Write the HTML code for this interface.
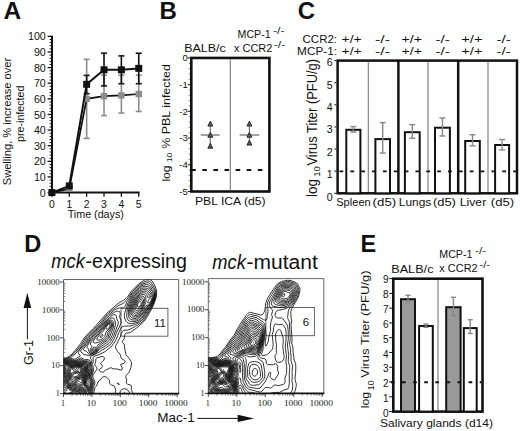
<!DOCTYPE html>
<html><head><meta charset="utf-8"><style>
html,body{margin:0;padding:0;background:#fff;}
body{width:520px;height:431px;overflow:hidden;}
svg{display:block}
</style></head><body>
<svg width="520" height="431" viewBox="0 0 520 431">
<rect width="520" height="431" fill="#fff"/>
<text x="3.4" y="18.8" text-anchor="start" style='font-family:"Liberation Sans", sans-serif;font-size:24.5px;font-weight:bold;font-style:normal' fill="#111">A</text>
<line x1="52.00" y1="35.85" x2="52.00" y2="193.60" stroke="#111" stroke-width="2" />
<line x1="47.60" y1="192.60" x2="52.00" y2="192.60" stroke="#111" stroke-width="1.3" />
<line x1="49.60" y1="189.47" x2="52.00" y2="189.47" stroke="#111" stroke-width="1" />
<line x1="49.60" y1="186.35" x2="52.00" y2="186.35" stroke="#111" stroke-width="1" />
<line x1="49.60" y1="183.22" x2="52.00" y2="183.22" stroke="#111" stroke-width="1" />
<line x1="49.60" y1="180.10" x2="52.00" y2="180.10" stroke="#111" stroke-width="1" />
<line x1="47.60" y1="176.97" x2="52.00" y2="176.97" stroke="#111" stroke-width="1.3" />
<line x1="49.60" y1="173.85" x2="52.00" y2="173.85" stroke="#111" stroke-width="1" />
<line x1="49.60" y1="170.72" x2="52.00" y2="170.72" stroke="#111" stroke-width="1" />
<line x1="49.60" y1="167.60" x2="52.00" y2="167.60" stroke="#111" stroke-width="1" />
<line x1="49.60" y1="164.47" x2="52.00" y2="164.47" stroke="#111" stroke-width="1" />
<line x1="47.60" y1="161.35" x2="52.00" y2="161.35" stroke="#111" stroke-width="1.3" />
<line x1="49.60" y1="158.22" x2="52.00" y2="158.22" stroke="#111" stroke-width="1" />
<line x1="49.60" y1="155.10" x2="52.00" y2="155.10" stroke="#111" stroke-width="1" />
<line x1="49.60" y1="151.97" x2="52.00" y2="151.97" stroke="#111" stroke-width="1" />
<line x1="49.60" y1="148.85" x2="52.00" y2="148.85" stroke="#111" stroke-width="1" />
<line x1="47.60" y1="145.72" x2="52.00" y2="145.72" stroke="#111" stroke-width="1.3" />
<line x1="49.60" y1="142.60" x2="52.00" y2="142.60" stroke="#111" stroke-width="1" />
<line x1="49.60" y1="139.47" x2="52.00" y2="139.47" stroke="#111" stroke-width="1" />
<line x1="49.60" y1="136.35" x2="52.00" y2="136.35" stroke="#111" stroke-width="1" />
<line x1="49.60" y1="133.22" x2="52.00" y2="133.22" stroke="#111" stroke-width="1" />
<line x1="47.60" y1="130.10" x2="52.00" y2="130.10" stroke="#111" stroke-width="1.3" />
<line x1="49.60" y1="126.97" x2="52.00" y2="126.97" stroke="#111" stroke-width="1" />
<line x1="49.60" y1="123.85" x2="52.00" y2="123.85" stroke="#111" stroke-width="1" />
<line x1="49.60" y1="120.72" x2="52.00" y2="120.72" stroke="#111" stroke-width="1" />
<line x1="49.60" y1="117.60" x2="52.00" y2="117.60" stroke="#111" stroke-width="1" />
<line x1="47.60" y1="114.47" x2="52.00" y2="114.47" stroke="#111" stroke-width="1.3" />
<line x1="49.60" y1="111.35" x2="52.00" y2="111.35" stroke="#111" stroke-width="1" />
<line x1="49.60" y1="108.22" x2="52.00" y2="108.22" stroke="#111" stroke-width="1" />
<line x1="49.60" y1="105.10" x2="52.00" y2="105.10" stroke="#111" stroke-width="1" />
<line x1="49.60" y1="101.97" x2="52.00" y2="101.97" stroke="#111" stroke-width="1" />
<line x1="47.60" y1="98.85" x2="52.00" y2="98.85" stroke="#111" stroke-width="1.3" />
<line x1="49.60" y1="95.72" x2="52.00" y2="95.72" stroke="#111" stroke-width="1" />
<line x1="49.60" y1="92.60" x2="52.00" y2="92.60" stroke="#111" stroke-width="1" />
<line x1="49.60" y1="89.47" x2="52.00" y2="89.47" stroke="#111" stroke-width="1" />
<line x1="49.60" y1="86.35" x2="52.00" y2="86.35" stroke="#111" stroke-width="1" />
<line x1="47.60" y1="83.22" x2="52.00" y2="83.22" stroke="#111" stroke-width="1.3" />
<line x1="49.60" y1="80.10" x2="52.00" y2="80.10" stroke="#111" stroke-width="1" />
<line x1="49.60" y1="76.97" x2="52.00" y2="76.97" stroke="#111" stroke-width="1" />
<line x1="49.60" y1="73.85" x2="52.00" y2="73.85" stroke="#111" stroke-width="1" />
<line x1="49.60" y1="70.72" x2="52.00" y2="70.72" stroke="#111" stroke-width="1" />
<line x1="47.60" y1="67.60" x2="52.00" y2="67.60" stroke="#111" stroke-width="1.3" />
<line x1="49.60" y1="64.47" x2="52.00" y2="64.47" stroke="#111" stroke-width="1" />
<line x1="49.60" y1="61.35" x2="52.00" y2="61.35" stroke="#111" stroke-width="1" />
<line x1="49.60" y1="58.22" x2="52.00" y2="58.22" stroke="#111" stroke-width="1" />
<line x1="49.60" y1="55.10" x2="52.00" y2="55.10" stroke="#111" stroke-width="1" />
<line x1="47.60" y1="51.97" x2="52.00" y2="51.97" stroke="#111" stroke-width="1.3" />
<line x1="49.60" y1="48.85" x2="52.00" y2="48.85" stroke="#111" stroke-width="1" />
<line x1="49.60" y1="45.72" x2="52.00" y2="45.72" stroke="#111" stroke-width="1" />
<line x1="49.60" y1="42.60" x2="52.00" y2="42.60" stroke="#111" stroke-width="1" />
<line x1="49.60" y1="39.47" x2="52.00" y2="39.47" stroke="#111" stroke-width="1" />
<line x1="47.60" y1="36.35" x2="52.00" y2="36.35" stroke="#111" stroke-width="1.3" />
<text x="45.8" y="196.7" text-anchor="end" style='font-family:"Liberation Sans", sans-serif;font-size:10.7px;font-weight:normal;font-style:normal' fill="#111">0</text>
<text x="45.8" y="181.075" text-anchor="end" style='font-family:"Liberation Sans", sans-serif;font-size:10.7px;font-weight:normal;font-style:normal' fill="#111">10</text>
<text x="45.8" y="165.45" text-anchor="end" style='font-family:"Liberation Sans", sans-serif;font-size:10.7px;font-weight:normal;font-style:normal' fill="#111">20</text>
<text x="45.8" y="149.825" text-anchor="end" style='font-family:"Liberation Sans", sans-serif;font-size:10.7px;font-weight:normal;font-style:normal' fill="#111">30</text>
<text x="45.8" y="134.2" text-anchor="end" style='font-family:"Liberation Sans", sans-serif;font-size:10.7px;font-weight:normal;font-style:normal' fill="#111">40</text>
<text x="45.8" y="118.57499999999999" text-anchor="end" style='font-family:"Liberation Sans", sans-serif;font-size:10.7px;font-weight:normal;font-style:normal' fill="#111">50</text>
<text x="45.8" y="102.94999999999999" text-anchor="end" style='font-family:"Liberation Sans", sans-serif;font-size:10.7px;font-weight:normal;font-style:normal' fill="#111">60</text>
<text x="45.8" y="87.32499999999999" text-anchor="end" style='font-family:"Liberation Sans", sans-serif;font-size:10.7px;font-weight:normal;font-style:normal' fill="#111">70</text>
<text x="45.8" y="71.69999999999999" text-anchor="end" style='font-family:"Liberation Sans", sans-serif;font-size:10.7px;font-weight:normal;font-style:normal' fill="#111">80</text>
<text x="45.8" y="56.074999999999996" text-anchor="end" style='font-family:"Liberation Sans", sans-serif;font-size:10.7px;font-weight:normal;font-style:normal' fill="#111">90</text>
<text x="45.8" y="40.449999999999996" text-anchor="end" style='font-family:"Liberation Sans", sans-serif;font-size:10.7px;font-weight:normal;font-style:normal' fill="#111">100</text>
<line x1="51.00" y1="192.60" x2="139.60" y2="192.60" stroke="#111" stroke-width="2" />
<line x1="51.90" y1="192.60" x2="51.90" y2="196.80" stroke="#111" stroke-width="1.3" />
<text x="51.9" y="207.6" text-anchor="middle" style='font-family:"Liberation Sans", sans-serif;font-size:10.4px;font-weight:normal;font-style:normal' fill="#111">0</text>
<line x1="69.27" y1="192.60" x2="69.27" y2="196.80" stroke="#111" stroke-width="1.3" />
<text x="69.27" y="207.6" text-anchor="middle" style='font-family:"Liberation Sans", sans-serif;font-size:10.4px;font-weight:normal;font-style:normal' fill="#111">1</text>
<line x1="86.64" y1="192.60" x2="86.64" y2="196.80" stroke="#111" stroke-width="1.3" />
<text x="86.64" y="207.6" text-anchor="middle" style='font-family:"Liberation Sans", sans-serif;font-size:10.4px;font-weight:normal;font-style:normal' fill="#111">2</text>
<line x1="104.01" y1="192.60" x2="104.01" y2="196.80" stroke="#111" stroke-width="1.3" />
<text x="104.00999999999999" y="207.6" text-anchor="middle" style='font-family:"Liberation Sans", sans-serif;font-size:10.4px;font-weight:normal;font-style:normal' fill="#111">3</text>
<line x1="121.38" y1="192.60" x2="121.38" y2="196.80" stroke="#111" stroke-width="1.3" />
<text x="121.38" y="207.6" text-anchor="middle" style='font-family:"Liberation Sans", sans-serif;font-size:10.4px;font-weight:normal;font-style:normal' fill="#111">4</text>
<line x1="138.75" y1="192.60" x2="138.75" y2="196.80" stroke="#111" stroke-width="1.3" />
<text x="138.75" y="207.6" text-anchor="middle" style='font-family:"Liberation Sans", sans-serif;font-size:10.4px;font-weight:normal;font-style:normal' fill="#111">5</text>
<text x="67.7" y="217.8" text-anchor="start" style='font-family:"Liberation Sans", sans-serif;font-size:10.0px;font-weight:normal;font-style:normal' fill="#111" textLength="56.2" lengthAdjust="spacingAndGlyphs">Time (days)</text>
<text transform="translate(10.5,185.3) rotate(-90)" x="0" y="0" text-anchor="start" style='font-family:"Liberation Sans", sans-serif;font-size:11.0px;font-weight:normal;font-style:normal' fill="#111" textLength="127.5" lengthAdjust="spacingAndGlyphs">Swelling, % increase over</text>
<text transform="translate(23.8,142.0) rotate(-90)" x="0" y="0" text-anchor="start" style='font-family:"Liberation Sans", sans-serif;font-size:11.0px;font-weight:normal;font-style:normal' fill="#111" textLength="56.5" lengthAdjust="spacingAndGlyphs">pre-infected</text>
<line x1="86.64" y1="138.38" x2="86.64" y2="59.32" stroke="#8c8c8c" stroke-width="1.6" />
<line x1="83.64" y1="138.38" x2="89.64" y2="138.38" stroke="#8c8c8c" stroke-width="1.6" />
<line x1="83.64" y1="59.32" x2="89.64" y2="59.32" stroke="#8c8c8c" stroke-width="1.6" />
<line x1="104.01" y1="115.57" x2="104.01" y2="75.10" stroke="#8c8c8c" stroke-width="1.6" />
<line x1="101.01" y1="115.57" x2="107.01" y2="115.57" stroke="#8c8c8c" stroke-width="1.6" />
<line x1="101.01" y1="75.10" x2="107.01" y2="75.10" stroke="#8c8c8c" stroke-width="1.6" />
<line x1="121.38" y1="113.07" x2="121.38" y2="75.10" stroke="#8c8c8c" stroke-width="1.6" />
<line x1="118.38" y1="113.07" x2="124.38" y2="113.07" stroke="#8c8c8c" stroke-width="1.6" />
<line x1="118.38" y1="75.10" x2="124.38" y2="75.10" stroke="#8c8c8c" stroke-width="1.6" />
<line x1="138.75" y1="111.51" x2="138.75" y2="75.10" stroke="#8c8c8c" stroke-width="1.6" />
<line x1="135.75" y1="111.51" x2="141.75" y2="111.51" stroke="#8c8c8c" stroke-width="1.6" />
<line x1="135.75" y1="75.10" x2="141.75" y2="75.10" stroke="#8c8c8c" stroke-width="1.6" />
<polyline points="51.90,192.60 69.27,188.69 86.64,98.85 104.01,96.19 121.38,95.41 138.75,94.01" fill="none" stroke="#111" stroke-width="1.7"/>
<rect x="48.70" y="189.40" width="6.40" height="6.40" fill="#8c8c8c" stroke="none" stroke-width="1"/>
<rect x="66.07" y="185.49" width="6.40" height="6.40" fill="#8c8c8c" stroke="none" stroke-width="1"/>
<rect x="83.44" y="95.65" width="6.40" height="6.40" fill="#8c8c8c" stroke="none" stroke-width="1"/>
<rect x="100.81" y="92.99" width="6.40" height="6.40" fill="#8c8c8c" stroke="none" stroke-width="1"/>
<rect x="118.18" y="92.21" width="6.40" height="6.40" fill="#8c8c8c" stroke="none" stroke-width="1"/>
<rect x="135.55" y="90.81" width="6.40" height="6.40" fill="#8c8c8c" stroke="none" stroke-width="1"/>
<line x1="86.64" y1="93.69" x2="86.64" y2="75.41" stroke="#111" stroke-width="1.6" />
<line x1="83.64" y1="93.69" x2="89.64" y2="93.69" stroke="#111" stroke-width="1.6" />
<line x1="83.64" y1="75.41" x2="89.64" y2="75.41" stroke="#111" stroke-width="1.6" />
<line x1="104.01" y1="85.88" x2="104.01" y2="53.22" stroke="#111" stroke-width="1.6" />
<line x1="101.01" y1="85.88" x2="107.01" y2="85.88" stroke="#111" stroke-width="1.6" />
<line x1="101.01" y1="53.22" x2="107.01" y2="53.22" stroke="#111" stroke-width="1.6" />
<line x1="121.38" y1="83.69" x2="121.38" y2="55.88" stroke="#111" stroke-width="1.6" />
<line x1="118.38" y1="83.69" x2="124.38" y2="83.69" stroke="#111" stroke-width="1.6" />
<line x1="118.38" y1="55.88" x2="124.38" y2="55.88" stroke="#111" stroke-width="1.6" />
<line x1="138.75" y1="83.69" x2="138.75" y2="53.22" stroke="#111" stroke-width="1.6" />
<line x1="135.75" y1="83.69" x2="141.75" y2="83.69" stroke="#111" stroke-width="1.6" />
<line x1="135.75" y1="53.22" x2="141.75" y2="53.22" stroke="#111" stroke-width="1.6" />
<polyline points="51.90,192.60 69.27,185.88 86.64,84.32 104.01,69.79 121.38,69.79 138.75,68.38" fill="none" stroke="#111" stroke-width="2"/>
<rect x="48.40" y="189.10" width="7.00" height="7.00" fill="#111" stroke="none" stroke-width="1"/>
<rect x="65.77" y="182.38" width="7.00" height="7.00" fill="#111" stroke="none" stroke-width="1"/>
<rect x="83.14" y="80.82" width="7.00" height="7.00" fill="#111" stroke="none" stroke-width="1"/>
<rect x="100.51" y="66.29" width="7.00" height="7.00" fill="#111" stroke="none" stroke-width="1"/>
<rect x="117.88" y="66.29" width="7.00" height="7.00" fill="#111" stroke="none" stroke-width="1"/>
<rect x="135.25" y="64.88" width="7.00" height="7.00" fill="#111" stroke="none" stroke-width="1"/>
<text x="159.6" y="18.9" text-anchor="start" style='font-family:"Liberation Sans", sans-serif;font-size:24px;font-weight:bold;font-style:normal' fill="#111">B</text>
<rect x="191.30" y="57.95" width="78.10" height="133.55" fill="none" stroke="#111" stroke-width="2.6"/>
<line x1="230.30" y1="59.20" x2="230.30" y2="190.20" stroke="#777" stroke-width="1.1" />
<line x1="187.80" y1="57.95" x2="190.00" y2="57.95" stroke="#111" stroke-width="1" />
<line x1="188.80" y1="63.29" x2="190.00" y2="63.29" stroke="#555" stroke-width="0.8" />
<line x1="188.80" y1="68.63" x2="190.00" y2="68.63" stroke="#555" stroke-width="0.8" />
<line x1="188.80" y1="73.97" x2="190.00" y2="73.97" stroke="#555" stroke-width="0.8" />
<line x1="188.80" y1="79.31" x2="190.00" y2="79.31" stroke="#555" stroke-width="0.8" />
<line x1="187.80" y1="84.65" x2="190.00" y2="84.65" stroke="#111" stroke-width="1" />
<line x1="188.80" y1="89.99" x2="190.00" y2="89.99" stroke="#555" stroke-width="0.8" />
<line x1="188.80" y1="95.33" x2="190.00" y2="95.33" stroke="#555" stroke-width="0.8" />
<line x1="188.80" y1="100.67" x2="190.00" y2="100.67" stroke="#555" stroke-width="0.8" />
<line x1="188.80" y1="106.01" x2="190.00" y2="106.01" stroke="#555" stroke-width="0.8" />
<line x1="187.80" y1="111.35" x2="190.00" y2="111.35" stroke="#111" stroke-width="1" />
<line x1="188.80" y1="116.69" x2="190.00" y2="116.69" stroke="#555" stroke-width="0.8" />
<line x1="188.80" y1="122.03" x2="190.00" y2="122.03" stroke="#555" stroke-width="0.8" />
<line x1="188.80" y1="127.37" x2="190.00" y2="127.37" stroke="#555" stroke-width="0.8" />
<line x1="188.80" y1="132.71" x2="190.00" y2="132.71" stroke="#555" stroke-width="0.8" />
<line x1="187.80" y1="138.05" x2="190.00" y2="138.05" stroke="#111" stroke-width="1" />
<line x1="188.80" y1="143.39" x2="190.00" y2="143.39" stroke="#555" stroke-width="0.8" />
<line x1="188.80" y1="148.73" x2="190.00" y2="148.73" stroke="#555" stroke-width="0.8" />
<line x1="188.80" y1="154.07" x2="190.00" y2="154.07" stroke="#555" stroke-width="0.8" />
<line x1="188.80" y1="159.41" x2="190.00" y2="159.41" stroke="#555" stroke-width="0.8" />
<line x1="187.80" y1="164.75" x2="190.00" y2="164.75" stroke="#111" stroke-width="1" />
<line x1="188.80" y1="170.09" x2="190.00" y2="170.09" stroke="#555" stroke-width="0.8" />
<line x1="188.80" y1="175.43" x2="190.00" y2="175.43" stroke="#555" stroke-width="0.8" />
<line x1="188.80" y1="180.77" x2="190.00" y2="180.77" stroke="#555" stroke-width="0.8" />
<line x1="188.80" y1="186.11" x2="190.00" y2="186.11" stroke="#555" stroke-width="0.8" />
<line x1="187.80" y1="191.45" x2="190.00" y2="191.45" stroke="#111" stroke-width="1" />
<text x="187.8" y="61.25" text-anchor="end" style='font-family:"Liberation Sans", sans-serif;font-size:9.5px;font-weight:normal;font-style:normal' fill="#111">0</text>
<text x="187.8" y="87.95" text-anchor="end" style='font-family:"Liberation Sans", sans-serif;font-size:9.5px;font-weight:normal;font-style:normal' fill="#111">-1</text>
<text x="187.8" y="114.64999999999999" text-anchor="end" style='font-family:"Liberation Sans", sans-serif;font-size:9.5px;font-weight:normal;font-style:normal' fill="#111">-2</text>
<text x="187.8" y="141.35000000000002" text-anchor="end" style='font-family:"Liberation Sans", sans-serif;font-size:9.5px;font-weight:normal;font-style:normal' fill="#111">-3</text>
<text x="187.8" y="168.05" text-anchor="end" style='font-family:"Liberation Sans", sans-serif;font-size:9.5px;font-weight:normal;font-style:normal' fill="#111">-4</text>
<text x="187.8" y="194.75" text-anchor="end" style='font-family:"Liberation Sans", sans-serif;font-size:9.5px;font-weight:normal;font-style:normal' fill="#111">-5</text>
<line x1="191.20" y1="170.00" x2="268.00" y2="170.00" stroke="#111" stroke-width="1.9" stroke-dasharray="4.6 6.5"/>
<line x1="210.30" y1="123.80" x2="210.30" y2="146.00" stroke="#777" stroke-width="1.2" />
<line x1="200.80" y1="135.00" x2="219.70" y2="135.00" stroke="#8a8a8a" stroke-width="1.6" />
<path d="M207.9,126.0 L210.3,121.2 L212.7,126.0 Z" fill="#666" stroke="#111" stroke-width="0.9"/>
<path d="M207.9,137.2 L210.3,132.4 L212.7,137.2 Z" fill="#666" stroke="#111" stroke-width="0.9"/>
<path d="M207.9,148.2 L210.3,143.4 L212.7,148.2 Z" fill="#666" stroke="#111" stroke-width="0.9"/>
<line x1="249.40" y1="123.80" x2="249.40" y2="142.90" stroke="#777" stroke-width="1.2" />
<line x1="239.60" y1="135.00" x2="259.30" y2="135.00" stroke="#8a8a8a" stroke-width="1.6" />
<path d="M247.0,126.0 L249.4,121.2 L251.8,126.0 Z" fill="#666" stroke="#111" stroke-width="0.9"/>
<path d="M247.0,137.2 L249.4,132.4 L251.8,137.2 Z" fill="#666" stroke="#111" stroke-width="0.9"/>
<path d="M247.0,145.1 L249.4,140.3 L251.8,145.1 Z" fill="#666" stroke="#111" stroke-width="0.9"/>
<text x="184.2" y="51.5" text-anchor="start" style='font-family:"Liberation Sans", sans-serif;font-size:10.5px;font-weight:normal;font-style:normal' fill="#111" textLength="41.6" lengthAdjust="spacingAndGlyphs">BALB/c</text>
<text x="237.6" y="38.4" text-anchor="start" style='font-family:"Liberation Sans", sans-serif;font-size:11.2px;font-weight:normal;font-style:normal' fill="#111" textLength="33.0" lengthAdjust="spacingAndGlyphs">MCP-1</text>
<text x="234.0" y="51.6" text-anchor="start" style='font-family:"Liberation Sans", sans-serif;font-size:11.2px;font-weight:normal;font-style:normal' fill="#111" textLength="38.3" lengthAdjust="spacingAndGlyphs">x CCR2</text>
<text x="273.1" y="33.9" text-anchor="start" style='font-family:"Liberation Sans", sans-serif;font-size:9px;font-weight:normal;font-style:normal' fill="#111" textLength="11.4" lengthAdjust="spacingAndGlyphs">-/-</text>
<text x="273.8" y="47.6" text-anchor="start" style='font-family:"Liberation Sans", sans-serif;font-size:9px;font-weight:normal;font-style:normal' fill="#111" textLength="11.4" lengthAdjust="spacingAndGlyphs">-/-</text>
<text x="195.0" y="205.3" text-anchor="start" style='font-family:"Liberation Sans", sans-serif;font-size:11.2px;font-weight:normal;font-style:normal' fill="#111" textLength="70.6" lengthAdjust="spacingAndGlyphs">PBL ICA (d5)</text>
<text transform="translate(170.4,181.6) rotate(-90)" x="0" y="0" text-anchor="start" style='font-family:"Liberation Sans", sans-serif;font-size:10.8px;font-weight:normal;font-style:normal' fill="#111" textLength="16.2" lengthAdjust="spacingAndGlyphs">log</text>
<text transform="translate(172.4,162.2) rotate(-90)" x="0" y="0" text-anchor="start" style='font-family:"Liberation Sans", sans-serif;font-size:7.5px;font-weight:normal;font-style:normal' fill="#111" textLength="9.6" lengthAdjust="spacingAndGlyphs">10</text>
<text transform="translate(170.4,148.8) rotate(-90)" x="0" y="0" text-anchor="start" style='font-family:"Liberation Sans", sans-serif;font-size:10.8px;font-weight:normal;font-style:normal' fill="#111" textLength="84.6" lengthAdjust="spacingAndGlyphs">% PBL infected</text>
<text x="297.7" y="19.2" text-anchor="start" style='font-family:"Liberation Sans", sans-serif;font-size:24px;font-weight:bold;font-style:normal' fill="#111">C</text>
<rect x="337.60" y="60.60" width="179.40" height="132.70" fill="none" stroke="#111" stroke-width="2.5"/>
<line x1="398.40" y1="60.60" x2="398.40" y2="193.30" stroke="#111" stroke-width="2.5" />
<line x1="458.20" y1="60.60" x2="458.20" y2="193.30" stroke="#111" stroke-width="2.5" />
<line x1="368.30" y1="61.80" x2="368.30" y2="192.10" stroke="#777" stroke-width="1.1" />
<line x1="428.00" y1="61.80" x2="428.00" y2="192.10" stroke="#777" stroke-width="1.1" />
<line x1="488.00" y1="61.80" x2="488.00" y2="192.10" stroke="#777" stroke-width="1.1" />
<line x1="334.40" y1="193.30" x2="336.40" y2="193.30" stroke="#111" stroke-width="1" />
<text x="332.7" y="200.59999999999997" text-anchor="end" style='font-family:"Liberation Sans", sans-serif;font-size:10.6px;font-weight:normal;font-style:normal' fill="#111">0</text>
<line x1="334.40" y1="171.18" x2="336.40" y2="171.18" stroke="#111" stroke-width="1" />
<text x="332.7" y="178.2" text-anchor="end" style='font-family:"Liberation Sans", sans-serif;font-size:10.6px;font-weight:normal;font-style:normal' fill="#111">1</text>
<line x1="334.40" y1="149.06" x2="336.40" y2="149.06" stroke="#111" stroke-width="1" />
<text x="332.7" y="155.8" text-anchor="end" style='font-family:"Liberation Sans", sans-serif;font-size:10.6px;font-weight:normal;font-style:normal' fill="#111">2</text>
<line x1="334.40" y1="126.94" x2="336.40" y2="126.94" stroke="#111" stroke-width="1" />
<text x="332.7" y="133.39999999999998" text-anchor="end" style='font-family:"Liberation Sans", sans-serif;font-size:10.6px;font-weight:normal;font-style:normal' fill="#111">3</text>
<line x1="334.40" y1="104.82" x2="336.40" y2="104.82" stroke="#111" stroke-width="1" />
<text x="332.7" y="111.0" text-anchor="end" style='font-family:"Liberation Sans", sans-serif;font-size:10.6px;font-weight:normal;font-style:normal' fill="#111">4</text>
<line x1="334.40" y1="82.70" x2="336.40" y2="82.70" stroke="#111" stroke-width="1" />
<text x="332.7" y="88.6" text-anchor="end" style='font-family:"Liberation Sans", sans-serif;font-size:10.6px;font-weight:normal;font-style:normal' fill="#111">5</text>
<line x1="334.40" y1="60.58" x2="336.40" y2="60.58" stroke="#111" stroke-width="1" />
<text x="332.7" y="66.2" text-anchor="end" style='font-family:"Liberation Sans", sans-serif;font-size:10.6px;font-weight:normal;font-style:normal' fill="#111">6</text>
<rect x="346.30" y="129.80" width="14.10" height="63.50" fill="#fff" stroke="#111" stroke-width="2"/>
<line x1="353.35" y1="126.60" x2="353.35" y2="132.10" stroke="#888" stroke-width="1.4" />
<line x1="350.35" y1="126.60" x2="356.35" y2="126.60" stroke="#888" stroke-width="1.4" />
<line x1="350.35" y1="132.10" x2="356.35" y2="132.10" stroke="#888" stroke-width="1.4" />
<rect x="375.40" y="139.10" width="14.60" height="54.20" fill="#fff" stroke="#111" stroke-width="2"/>
<line x1="382.70" y1="122.60" x2="382.70" y2="153.10" stroke="#888" stroke-width="1.4" />
<line x1="379.70" y1="122.60" x2="385.70" y2="122.60" stroke="#888" stroke-width="1.4" />
<line x1="379.70" y1="153.10" x2="385.70" y2="153.10" stroke="#888" stroke-width="1.4" />
<rect x="404.90" y="132.20" width="14.80" height="61.10" fill="#fff" stroke="#111" stroke-width="2"/>
<line x1="412.30" y1="124.60" x2="412.30" y2="138.20" stroke="#888" stroke-width="1.4" />
<line x1="409.30" y1="124.60" x2="415.30" y2="124.60" stroke="#888" stroke-width="1.4" />
<line x1="409.30" y1="138.20" x2="415.30" y2="138.20" stroke="#888" stroke-width="1.4" />
<rect x="435.00" y="127.70" width="14.90" height="65.60" fill="#fff" stroke="#111" stroke-width="2"/>
<line x1="442.45" y1="117.90" x2="442.45" y2="136.00" stroke="#888" stroke-width="1.4" />
<line x1="439.45" y1="117.90" x2="445.45" y2="117.90" stroke="#888" stroke-width="1.4" />
<line x1="439.45" y1="136.00" x2="445.45" y2="136.00" stroke="#888" stroke-width="1.4" />
<rect x="465.20" y="141.00" width="14.60" height="52.30" fill="#fff" stroke="#111" stroke-width="2"/>
<line x1="472.50" y1="134.70" x2="472.50" y2="145.90" stroke="#888" stroke-width="1.4" />
<line x1="469.50" y1="134.70" x2="475.50" y2="134.70" stroke="#888" stroke-width="1.4" />
<line x1="469.50" y1="145.90" x2="475.50" y2="145.90" stroke="#888" stroke-width="1.4" />
<rect x="495.10" y="145.00" width="14.00" height="48.30" fill="#fff" stroke="#111" stroke-width="2"/>
<line x1="502.10" y1="139.50" x2="502.10" y2="149.90" stroke="#888" stroke-width="1.4" />
<line x1="499.10" y1="139.50" x2="505.10" y2="139.50" stroke="#888" stroke-width="1.4" />
<line x1="499.10" y1="149.90" x2="505.10" y2="149.90" stroke="#888" stroke-width="1.4" />
<line x1="339.50" y1="171.40" x2="516.00" y2="171.40" stroke="#111" stroke-width="1.9" stroke-dasharray="3.8 7.05"/>
<text x="302.6" y="42.8" text-anchor="start" style='font-family:"Liberation Sans", sans-serif;font-size:10.5px;font-weight:normal;font-style:normal' fill="#111" textLength="34.4" lengthAdjust="spacingAndGlyphs">CCR2:</text>
<text x="297.1" y="54.8" text-anchor="start" style='font-family:"Liberation Sans", sans-serif;font-size:10.5px;font-weight:normal;font-style:normal' fill="#111" textLength="39.9" lengthAdjust="spacingAndGlyphs">MCP-1:</text>
<text x="341.6" y="42.8" text-anchor="start" style='font-family:"Liberation Sans", sans-serif;font-size:10.5px;font-weight:normal;font-style:normal' fill="#111" textLength="20.099999999999966" lengthAdjust="spacingAndGlyphs">+/+</text>
<text x="341.6" y="54.8" text-anchor="start" style='font-family:"Liberation Sans", sans-serif;font-size:10.5px;font-weight:normal;font-style:normal' fill="#111" textLength="20.099999999999966" lengthAdjust="spacingAndGlyphs">+/+</text>
<text x="401.5" y="42.8" text-anchor="start" style='font-family:"Liberation Sans", sans-serif;font-size:10.5px;font-weight:normal;font-style:normal' fill="#111" textLength="20.399999999999977" lengthAdjust="spacingAndGlyphs">+/+</text>
<text x="401.5" y="54.8" text-anchor="start" style='font-family:"Liberation Sans", sans-serif;font-size:10.5px;font-weight:normal;font-style:normal' fill="#111" textLength="20.399999999999977" lengthAdjust="spacingAndGlyphs">+/+</text>
<text x="461.3" y="42.8" text-anchor="start" style='font-family:"Liberation Sans", sans-serif;font-size:10.5px;font-weight:normal;font-style:normal' fill="#111" textLength="21.19999999999999" lengthAdjust="spacingAndGlyphs">+/+</text>
<text x="461.3" y="54.8" text-anchor="start" style='font-family:"Liberation Sans", sans-serif;font-size:10.5px;font-weight:normal;font-style:normal' fill="#111" textLength="21.19999999999999" lengthAdjust="spacingAndGlyphs">+/+</text>
<text x="375.0" y="42.8" text-anchor="start" style='font-family:"Liberation Sans", sans-serif;font-size:10.5px;font-weight:normal;font-style:normal' fill="#111" textLength="15.0" lengthAdjust="spacingAndGlyphs">-/-</text>
<text x="375.0" y="54.8" text-anchor="start" style='font-family:"Liberation Sans", sans-serif;font-size:10.5px;font-weight:normal;font-style:normal' fill="#111" textLength="15.0" lengthAdjust="spacingAndGlyphs">-/-</text>
<text x="435.4" y="42.8" text-anchor="start" style='font-family:"Liberation Sans", sans-serif;font-size:10.5px;font-weight:normal;font-style:normal' fill="#111" textLength="14.400000000000034" lengthAdjust="spacingAndGlyphs">-/-</text>
<text x="435.4" y="54.8" text-anchor="start" style='font-family:"Liberation Sans", sans-serif;font-size:10.5px;font-weight:normal;font-style:normal' fill="#111" textLength="14.400000000000034" lengthAdjust="spacingAndGlyphs">-/-</text>
<text x="496.5" y="42.8" text-anchor="start" style='font-family:"Liberation Sans", sans-serif;font-size:10.5px;font-weight:normal;font-style:normal' fill="#111" textLength="14.300000000000011" lengthAdjust="spacingAndGlyphs">-/-</text>
<text x="496.5" y="54.8" text-anchor="start" style='font-family:"Liberation Sans", sans-serif;font-size:10.5px;font-weight:normal;font-style:normal' fill="#111" textLength="14.300000000000011" lengthAdjust="spacingAndGlyphs">-/-</text>
<text x="336.2" y="206.3" text-anchor="start" style='font-family:"Liberation Sans", sans-serif;font-size:11.4px;font-weight:normal;font-style:normal' fill="#111" textLength="34.6" lengthAdjust="spacingAndGlyphs">Spleen</text>
<text x="372.6" y="206.3" text-anchor="start" style='font-family:"Liberation Sans", sans-serif;font-size:11.4px;font-weight:normal;font-style:normal' fill="#111" textLength="23.6" lengthAdjust="spacingAndGlyphs">(d5)</text>
<text x="398.8" y="206.3" text-anchor="start" style='font-family:"Liberation Sans", sans-serif;font-size:11.4px;font-weight:normal;font-style:normal' fill="#111" textLength="32.4" lengthAdjust="spacingAndGlyphs">Lungs</text>
<text x="432.9" y="206.3" text-anchor="start" style='font-family:"Liberation Sans", sans-serif;font-size:11.4px;font-weight:normal;font-style:normal' fill="#111" textLength="23.0" lengthAdjust="spacingAndGlyphs">(d5)</text>
<text x="459.8" y="206.3" text-anchor="start" style='font-family:"Liberation Sans", sans-serif;font-size:11.4px;font-weight:normal;font-style:normal' fill="#111" textLength="26.4" lengthAdjust="spacingAndGlyphs">Liver</text>
<text x="490.8" y="206.3" text-anchor="start" style='font-family:"Liberation Sans", sans-serif;font-size:11.4px;font-weight:normal;font-style:normal' fill="#111" textLength="23.3" lengthAdjust="spacingAndGlyphs">(d5)</text>
<text transform="translate(317.0,197.0) rotate(-90)" x="0" y="0" text-anchor="start" style='font-family:"Liberation Sans", sans-serif;font-size:13.8px;font-weight:normal;font-style:normal' fill="#111" textLength="17.9" lengthAdjust="spacingAndGlyphs">log</text>
<text transform="translate(320.0,176.7) rotate(-90)" x="0" y="0" text-anchor="start" style='font-family:"Liberation Sans", sans-serif;font-size:9.5px;font-weight:normal;font-style:normal' fill="#111" textLength="10.6" lengthAdjust="spacingAndGlyphs">10</text>
<text transform="translate(317.0,165.5) rotate(-90)" x="0" y="0" text-anchor="start" style='font-family:"Liberation Sans", sans-serif;font-size:13.8px;font-weight:normal;font-style:normal' fill="#111" textLength="106.6" lengthAdjust="spacingAndGlyphs">Virus Titer (PFU/g)</text>
<text x="24.3" y="252" text-anchor="start" style='font-family:"Liberation Sans", sans-serif;font-size:23.5px;font-weight:bold;font-style:normal' fill="#111">D</text>
<text x="51.3" y="268.1" text-anchor="start" style='font-family:"Liberation Sans", sans-serif;font-size:19.5px;font-weight:normal;font-style:italic' fill="#111" textLength="33.5" lengthAdjust="spacingAndGlyphs">mck</text>
<text x="85.5" y="268.1" text-anchor="start" style='font-family:"Liberation Sans", sans-serif;font-size:19.5px;font-weight:normal;font-style:normal' fill="#111" textLength="101.4" lengthAdjust="spacingAndGlyphs">-expressing</text>
<text x="212.3" y="269.0" text-anchor="start" style='font-family:"Liberation Sans", sans-serif;font-size:19.5px;font-weight:normal;font-style:italic' fill="#111" textLength="33.5" lengthAdjust="spacingAndGlyphs">mck</text>
<text x="246.5" y="269.0" text-anchor="start" style='font-family:"Liberation Sans", sans-serif;font-size:19.5px;font-weight:normal;font-style:normal' fill="#111" textLength="71.3" lengthAdjust="spacingAndGlyphs">-mutant</text>
<text transform="translate(33.3,365.0) rotate(-90)" x="0" y="0" text-anchor="start" style='font-family:"Liberation Sans", sans-serif;font-size:13.5px;font-weight:normal;font-style:normal' fill="#111" textLength="25.0" lengthAdjust="spacingAndGlyphs">Gr-1</text>
<line x1="27.40" y1="339.30" x2="27.40" y2="305.00" stroke="#111" stroke-width="1" />
<path d="M27.4,292.8 L31.2,308 L23.6,308 Z" fill="#111"/>
<text x="157.3" y="422.3" text-anchor="start" style='font-family:"Liberation Sans", sans-serif;font-size:13.5px;font-weight:normal;font-style:normal' fill="#111" textLength="37.5" lengthAdjust="spacingAndGlyphs">Mac-1</text>
<line x1="197.30" y1="418.40" x2="240.00" y2="418.40" stroke="#111" stroke-width="1" />
<path d="M254,418.4 L237.7,422 L237.7,414.8 Z" fill="#111"/>
<line x1="60.00" y1="393.60" x2="63.50" y2="393.60" stroke="#333" stroke-width="0.9" />
<line x1="63.50" y1="393.60" x2="63.50" y2="397.10" stroke="#333" stroke-width="0.9" />
<line x1="63.50" y1="385.20" x2="65.30" y2="385.20" stroke="#444" stroke-width="0.7" />
<line x1="72.05" y1="393.60" x2="72.05" y2="395.80" stroke="#444" stroke-width="0.7" />
<line x1="63.50" y1="380.29" x2="65.30" y2="380.29" stroke="#444" stroke-width="0.7" />
<line x1="77.05" y1="393.60" x2="77.05" y2="395.80" stroke="#444" stroke-width="0.7" />
<line x1="63.50" y1="376.80" x2="65.30" y2="376.80" stroke="#444" stroke-width="0.7" />
<line x1="80.60" y1="393.60" x2="80.60" y2="395.80" stroke="#444" stroke-width="0.7" />
<line x1="63.50" y1="374.10" x2="65.30" y2="374.10" stroke="#444" stroke-width="0.7" />
<line x1="83.35" y1="393.60" x2="83.35" y2="395.80" stroke="#444" stroke-width="0.7" />
<line x1="63.50" y1="371.89" x2="65.30" y2="371.89" stroke="#444" stroke-width="0.7" />
<line x1="85.60" y1="393.60" x2="85.60" y2="395.80" stroke="#444" stroke-width="0.7" />
<line x1="63.50" y1="370.02" x2="65.30" y2="370.02" stroke="#444" stroke-width="0.7" />
<line x1="87.50" y1="393.60" x2="87.50" y2="395.80" stroke="#444" stroke-width="0.7" />
<line x1="63.50" y1="368.40" x2="65.30" y2="368.40" stroke="#444" stroke-width="0.7" />
<line x1="89.15" y1="393.60" x2="89.15" y2="395.80" stroke="#444" stroke-width="0.7" />
<line x1="63.50" y1="366.98" x2="65.30" y2="366.98" stroke="#444" stroke-width="0.7" />
<line x1="90.60" y1="393.60" x2="90.60" y2="395.80" stroke="#444" stroke-width="0.7" />
<line x1="60.00" y1="365.70" x2="63.50" y2="365.70" stroke="#333" stroke-width="0.9" />
<line x1="91.90" y1="393.60" x2="91.90" y2="397.10" stroke="#333" stroke-width="0.9" />
<line x1="63.50" y1="357.30" x2="65.30" y2="357.30" stroke="#444" stroke-width="0.7" />
<line x1="100.45" y1="393.60" x2="100.45" y2="395.80" stroke="#444" stroke-width="0.7" />
<line x1="63.50" y1="352.39" x2="65.30" y2="352.39" stroke="#444" stroke-width="0.7" />
<line x1="105.45" y1="393.60" x2="105.45" y2="395.80" stroke="#444" stroke-width="0.7" />
<line x1="63.50" y1="348.90" x2="65.30" y2="348.90" stroke="#444" stroke-width="0.7" />
<line x1="109.00" y1="393.60" x2="109.00" y2="395.80" stroke="#444" stroke-width="0.7" />
<line x1="63.50" y1="346.20" x2="65.30" y2="346.20" stroke="#444" stroke-width="0.7" />
<line x1="111.75" y1="393.60" x2="111.75" y2="395.80" stroke="#444" stroke-width="0.7" />
<line x1="63.50" y1="343.99" x2="65.30" y2="343.99" stroke="#444" stroke-width="0.7" />
<line x1="114.00" y1="393.60" x2="114.00" y2="395.80" stroke="#444" stroke-width="0.7" />
<line x1="63.50" y1="342.12" x2="65.30" y2="342.12" stroke="#444" stroke-width="0.7" />
<line x1="115.90" y1="393.60" x2="115.90" y2="395.80" stroke="#444" stroke-width="0.7" />
<line x1="63.50" y1="340.50" x2="65.30" y2="340.50" stroke="#444" stroke-width="0.7" />
<line x1="117.55" y1="393.60" x2="117.55" y2="395.80" stroke="#444" stroke-width="0.7" />
<line x1="63.50" y1="339.08" x2="65.30" y2="339.08" stroke="#444" stroke-width="0.7" />
<line x1="119.00" y1="393.60" x2="119.00" y2="395.80" stroke="#444" stroke-width="0.7" />
<line x1="60.00" y1="337.80" x2="63.50" y2="337.80" stroke="#333" stroke-width="0.9" />
<line x1="120.30" y1="393.60" x2="120.30" y2="397.10" stroke="#333" stroke-width="0.9" />
<line x1="63.50" y1="329.40" x2="65.30" y2="329.40" stroke="#444" stroke-width="0.7" />
<line x1="128.85" y1="393.60" x2="128.85" y2="395.80" stroke="#444" stroke-width="0.7" />
<line x1="63.50" y1="324.49" x2="65.30" y2="324.49" stroke="#444" stroke-width="0.7" />
<line x1="133.85" y1="393.60" x2="133.85" y2="395.80" stroke="#444" stroke-width="0.7" />
<line x1="63.50" y1="321.00" x2="65.30" y2="321.00" stroke="#444" stroke-width="0.7" />
<line x1="137.40" y1="393.60" x2="137.40" y2="395.80" stroke="#444" stroke-width="0.7" />
<line x1="63.50" y1="318.30" x2="65.30" y2="318.30" stroke="#444" stroke-width="0.7" />
<line x1="140.15" y1="393.60" x2="140.15" y2="395.80" stroke="#444" stroke-width="0.7" />
<line x1="63.50" y1="316.09" x2="65.30" y2="316.09" stroke="#444" stroke-width="0.7" />
<line x1="142.40" y1="393.60" x2="142.40" y2="395.80" stroke="#444" stroke-width="0.7" />
<line x1="63.50" y1="314.22" x2="65.30" y2="314.22" stroke="#444" stroke-width="0.7" />
<line x1="144.30" y1="393.60" x2="144.30" y2="395.80" stroke="#444" stroke-width="0.7" />
<line x1="63.50" y1="312.60" x2="65.30" y2="312.60" stroke="#444" stroke-width="0.7" />
<line x1="145.95" y1="393.60" x2="145.95" y2="395.80" stroke="#444" stroke-width="0.7" />
<line x1="63.50" y1="311.18" x2="65.30" y2="311.18" stroke="#444" stroke-width="0.7" />
<line x1="147.40" y1="393.60" x2="147.40" y2="395.80" stroke="#444" stroke-width="0.7" />
<line x1="60.00" y1="309.90" x2="63.50" y2="309.90" stroke="#333" stroke-width="0.9" />
<line x1="148.70" y1="393.60" x2="148.70" y2="397.10" stroke="#333" stroke-width="0.9" />
<line x1="63.50" y1="301.50" x2="65.30" y2="301.50" stroke="#444" stroke-width="0.7" />
<line x1="157.25" y1="393.60" x2="157.25" y2="395.80" stroke="#444" stroke-width="0.7" />
<line x1="63.50" y1="296.59" x2="65.30" y2="296.59" stroke="#444" stroke-width="0.7" />
<line x1="162.25" y1="393.60" x2="162.25" y2="395.80" stroke="#444" stroke-width="0.7" />
<line x1="63.50" y1="293.10" x2="65.30" y2="293.10" stroke="#444" stroke-width="0.7" />
<line x1="165.80" y1="393.60" x2="165.80" y2="395.80" stroke="#444" stroke-width="0.7" />
<line x1="63.50" y1="290.40" x2="65.30" y2="290.40" stroke="#444" stroke-width="0.7" />
<line x1="168.55" y1="393.60" x2="168.55" y2="395.80" stroke="#444" stroke-width="0.7" />
<line x1="63.50" y1="288.19" x2="65.30" y2="288.19" stroke="#444" stroke-width="0.7" />
<line x1="170.80" y1="393.60" x2="170.80" y2="395.80" stroke="#444" stroke-width="0.7" />
<line x1="63.50" y1="286.32" x2="65.30" y2="286.32" stroke="#444" stroke-width="0.7" />
<line x1="172.70" y1="393.60" x2="172.70" y2="395.80" stroke="#444" stroke-width="0.7" />
<line x1="63.50" y1="284.70" x2="65.30" y2="284.70" stroke="#444" stroke-width="0.7" />
<line x1="174.35" y1="393.60" x2="174.35" y2="395.80" stroke="#444" stroke-width="0.7" />
<line x1="63.50" y1="283.28" x2="65.30" y2="283.28" stroke="#444" stroke-width="0.7" />
<line x1="175.80" y1="393.60" x2="175.80" y2="395.80" stroke="#444" stroke-width="0.7" />
<line x1="60.00" y1="282.00" x2="63.50" y2="282.00" stroke="#333" stroke-width="0.9" />
<line x1="177.10" y1="393.60" x2="177.10" y2="397.10" stroke="#333" stroke-width="0.9" />
<text x="59.7" y="396.3" text-anchor="end" style='font-family:"Liberation Serif", serif;font-size:8.3px;font-weight:normal;font-style:normal' fill="#222" textLength="4" lengthAdjust="spacingAndGlyphs">1</text>
<text x="62.9" y="405.9" text-anchor="middle" style='font-family:"Liberation Serif", serif;font-size:8.3px;font-weight:normal;font-style:normal' fill="#222" textLength="4" lengthAdjust="spacingAndGlyphs">1</text>
<text x="59.7" y="368.40000000000003" text-anchor="end" style='font-family:"Liberation Serif", serif;font-size:8.3px;font-weight:normal;font-style:normal' fill="#222" textLength="8.5" lengthAdjust="spacingAndGlyphs">10</text>
<text x="91.30000000000001" y="405.9" text-anchor="middle" style='font-family:"Liberation Serif", serif;font-size:8.3px;font-weight:normal;font-style:normal' fill="#222" textLength="9.2" lengthAdjust="spacingAndGlyphs">10</text>
<text x="59.7" y="340.5" text-anchor="end" style='font-family:"Liberation Serif", serif;font-size:8.3px;font-weight:normal;font-style:normal' fill="#222" textLength="13.3" lengthAdjust="spacingAndGlyphs">100</text>
<text x="119.7" y="405.9" text-anchor="middle" style='font-family:"Liberation Serif", serif;font-size:8.3px;font-weight:normal;font-style:normal' fill="#222" textLength="14.6" lengthAdjust="spacingAndGlyphs">100</text>
<text x="59.7" y="312.6" text-anchor="end" style='font-family:"Liberation Serif", serif;font-size:8.3px;font-weight:normal;font-style:normal' fill="#222" textLength="17.6" lengthAdjust="spacingAndGlyphs">1000</text>
<text x="148.1" y="405.9" text-anchor="middle" style='font-family:"Liberation Serif", serif;font-size:8.3px;font-weight:normal;font-style:normal' fill="#222" textLength="18.6" lengthAdjust="spacingAndGlyphs">1000</text>
<text x="59.7" y="284.7" text-anchor="end" style='font-family:"Liberation Serif", serif;font-size:8.3px;font-weight:normal;font-style:normal' fill="#222" textLength="22.5" lengthAdjust="spacingAndGlyphs">10000</text>
<text x="176.0" y="405.9" text-anchor="middle" style='font-family:"Liberation Serif", serif;font-size:8.3px;font-weight:normal;font-style:normal' fill="#222" textLength="23.6" lengthAdjust="spacingAndGlyphs">10000</text>
<path d="M63.5,393.6 L63.5,279.5 L178.7,279.5 L178.7,393.6" fill="none" stroke="#666" stroke-width="1"/>
<line x1="63.00" y1="393.60" x2="179.20" y2="393.60" stroke="#111" stroke-width="1.6" />
<rect x="121.00" y="308.30" width="46.90" height="27.90" fill="none" stroke="#555" stroke-width="0.9"/>
<text x="154.0" y="327.4" text-anchor="start" style='font-family:"Liberation Sans", sans-serif;font-size:11.5px;font-weight:normal;font-style:normal' fill="#111">11</text>
<line x1="204.80" y1="393.40" x2="208.30" y2="393.40" stroke="#333" stroke-width="0.9" />
<line x1="208.30" y1="393.40" x2="208.30" y2="396.90" stroke="#333" stroke-width="0.9" />
<line x1="208.30" y1="385.00" x2="210.10" y2="385.00" stroke="#444" stroke-width="0.7" />
<line x1="216.88" y1="393.40" x2="216.88" y2="395.60" stroke="#444" stroke-width="0.7" />
<line x1="208.30" y1="380.09" x2="210.10" y2="380.09" stroke="#444" stroke-width="0.7" />
<line x1="221.90" y1="393.40" x2="221.90" y2="395.60" stroke="#444" stroke-width="0.7" />
<line x1="208.30" y1="376.60" x2="210.10" y2="376.60" stroke="#444" stroke-width="0.7" />
<line x1="225.46" y1="393.40" x2="225.46" y2="395.60" stroke="#444" stroke-width="0.7" />
<line x1="208.30" y1="373.90" x2="210.10" y2="373.90" stroke="#444" stroke-width="0.7" />
<line x1="228.22" y1="393.40" x2="228.22" y2="395.60" stroke="#444" stroke-width="0.7" />
<line x1="208.30" y1="371.69" x2="210.10" y2="371.69" stroke="#444" stroke-width="0.7" />
<line x1="230.48" y1="393.40" x2="230.48" y2="395.60" stroke="#444" stroke-width="0.7" />
<line x1="208.30" y1="369.82" x2="210.10" y2="369.82" stroke="#444" stroke-width="0.7" />
<line x1="232.39" y1="393.40" x2="232.39" y2="395.60" stroke="#444" stroke-width="0.7" />
<line x1="208.30" y1="368.20" x2="210.10" y2="368.20" stroke="#444" stroke-width="0.7" />
<line x1="234.04" y1="393.40" x2="234.04" y2="395.60" stroke="#444" stroke-width="0.7" />
<line x1="208.30" y1="366.78" x2="210.10" y2="366.78" stroke="#444" stroke-width="0.7" />
<line x1="235.50" y1="393.40" x2="235.50" y2="395.60" stroke="#444" stroke-width="0.7" />
<line x1="204.80" y1="365.50" x2="208.30" y2="365.50" stroke="#333" stroke-width="0.9" />
<line x1="236.80" y1="393.40" x2="236.80" y2="396.90" stroke="#333" stroke-width="0.9" />
<line x1="208.30" y1="357.10" x2="210.10" y2="357.10" stroke="#444" stroke-width="0.7" />
<line x1="245.38" y1="393.40" x2="245.38" y2="395.60" stroke="#444" stroke-width="0.7" />
<line x1="208.30" y1="352.19" x2="210.10" y2="352.19" stroke="#444" stroke-width="0.7" />
<line x1="250.40" y1="393.40" x2="250.40" y2="395.60" stroke="#444" stroke-width="0.7" />
<line x1="208.30" y1="348.70" x2="210.10" y2="348.70" stroke="#444" stroke-width="0.7" />
<line x1="253.96" y1="393.40" x2="253.96" y2="395.60" stroke="#444" stroke-width="0.7" />
<line x1="208.30" y1="346.00" x2="210.10" y2="346.00" stroke="#444" stroke-width="0.7" />
<line x1="256.72" y1="393.40" x2="256.72" y2="395.60" stroke="#444" stroke-width="0.7" />
<line x1="208.30" y1="343.79" x2="210.10" y2="343.79" stroke="#444" stroke-width="0.7" />
<line x1="258.98" y1="393.40" x2="258.98" y2="395.60" stroke="#444" stroke-width="0.7" />
<line x1="208.30" y1="341.92" x2="210.10" y2="341.92" stroke="#444" stroke-width="0.7" />
<line x1="260.89" y1="393.40" x2="260.89" y2="395.60" stroke="#444" stroke-width="0.7" />
<line x1="208.30" y1="340.30" x2="210.10" y2="340.30" stroke="#444" stroke-width="0.7" />
<line x1="262.54" y1="393.40" x2="262.54" y2="395.60" stroke="#444" stroke-width="0.7" />
<line x1="208.30" y1="338.88" x2="210.10" y2="338.88" stroke="#444" stroke-width="0.7" />
<line x1="264.00" y1="393.40" x2="264.00" y2="395.60" stroke="#444" stroke-width="0.7" />
<line x1="204.80" y1="337.60" x2="208.30" y2="337.60" stroke="#333" stroke-width="0.9" />
<line x1="265.30" y1="393.40" x2="265.30" y2="396.90" stroke="#333" stroke-width="0.9" />
<line x1="208.30" y1="329.20" x2="210.10" y2="329.20" stroke="#444" stroke-width="0.7" />
<line x1="273.88" y1="393.40" x2="273.88" y2="395.60" stroke="#444" stroke-width="0.7" />
<line x1="208.30" y1="324.29" x2="210.10" y2="324.29" stroke="#444" stroke-width="0.7" />
<line x1="278.90" y1="393.40" x2="278.90" y2="395.60" stroke="#444" stroke-width="0.7" />
<line x1="208.30" y1="320.80" x2="210.10" y2="320.80" stroke="#444" stroke-width="0.7" />
<line x1="282.46" y1="393.40" x2="282.46" y2="395.60" stroke="#444" stroke-width="0.7" />
<line x1="208.30" y1="318.10" x2="210.10" y2="318.10" stroke="#444" stroke-width="0.7" />
<line x1="285.22" y1="393.40" x2="285.22" y2="395.60" stroke="#444" stroke-width="0.7" />
<line x1="208.30" y1="315.89" x2="210.10" y2="315.89" stroke="#444" stroke-width="0.7" />
<line x1="287.48" y1="393.40" x2="287.48" y2="395.60" stroke="#444" stroke-width="0.7" />
<line x1="208.30" y1="314.02" x2="210.10" y2="314.02" stroke="#444" stroke-width="0.7" />
<line x1="289.39" y1="393.40" x2="289.39" y2="395.60" stroke="#444" stroke-width="0.7" />
<line x1="208.30" y1="312.40" x2="210.10" y2="312.40" stroke="#444" stroke-width="0.7" />
<line x1="291.04" y1="393.40" x2="291.04" y2="395.60" stroke="#444" stroke-width="0.7" />
<line x1="208.30" y1="310.98" x2="210.10" y2="310.98" stroke="#444" stroke-width="0.7" />
<line x1="292.50" y1="393.40" x2="292.50" y2="395.60" stroke="#444" stroke-width="0.7" />
<line x1="204.80" y1="309.70" x2="208.30" y2="309.70" stroke="#333" stroke-width="0.9" />
<line x1="293.80" y1="393.40" x2="293.80" y2="396.90" stroke="#333" stroke-width="0.9" />
<line x1="208.30" y1="301.30" x2="210.10" y2="301.30" stroke="#444" stroke-width="0.7" />
<line x1="302.38" y1="393.40" x2="302.38" y2="395.60" stroke="#444" stroke-width="0.7" />
<line x1="208.30" y1="296.39" x2="210.10" y2="296.39" stroke="#444" stroke-width="0.7" />
<line x1="307.40" y1="393.40" x2="307.40" y2="395.60" stroke="#444" stroke-width="0.7" />
<line x1="208.30" y1="292.90" x2="210.10" y2="292.90" stroke="#444" stroke-width="0.7" />
<line x1="310.96" y1="393.40" x2="310.96" y2="395.60" stroke="#444" stroke-width="0.7" />
<line x1="208.30" y1="290.20" x2="210.10" y2="290.20" stroke="#444" stroke-width="0.7" />
<line x1="313.72" y1="393.40" x2="313.72" y2="395.60" stroke="#444" stroke-width="0.7" />
<line x1="208.30" y1="287.99" x2="210.10" y2="287.99" stroke="#444" stroke-width="0.7" />
<line x1="315.98" y1="393.40" x2="315.98" y2="395.60" stroke="#444" stroke-width="0.7" />
<line x1="208.30" y1="286.12" x2="210.10" y2="286.12" stroke="#444" stroke-width="0.7" />
<line x1="317.89" y1="393.40" x2="317.89" y2="395.60" stroke="#444" stroke-width="0.7" />
<line x1="208.30" y1="284.50" x2="210.10" y2="284.50" stroke="#444" stroke-width="0.7" />
<line x1="319.54" y1="393.40" x2="319.54" y2="395.60" stroke="#444" stroke-width="0.7" />
<line x1="208.30" y1="283.08" x2="210.10" y2="283.08" stroke="#444" stroke-width="0.7" />
<line x1="321.00" y1="393.40" x2="321.00" y2="395.60" stroke="#444" stroke-width="0.7" />
<line x1="204.80" y1="281.80" x2="208.30" y2="281.80" stroke="#333" stroke-width="0.9" />
<line x1="322.30" y1="393.40" x2="322.30" y2="396.90" stroke="#333" stroke-width="0.9" />
<text x="204.5" y="396.09999999999997" text-anchor="end" style='font-family:"Liberation Serif", serif;font-size:8.3px;font-weight:normal;font-style:normal' fill="#222" textLength="4" lengthAdjust="spacingAndGlyphs">1</text>
<text x="207.70000000000002" y="405.9" text-anchor="middle" style='font-family:"Liberation Serif", serif;font-size:8.3px;font-weight:normal;font-style:normal' fill="#222" textLength="4" lengthAdjust="spacingAndGlyphs">1</text>
<text x="204.5" y="368.2" text-anchor="end" style='font-family:"Liberation Serif", serif;font-size:8.3px;font-weight:normal;font-style:normal' fill="#222" textLength="8.5" lengthAdjust="spacingAndGlyphs">10</text>
<text x="236.20000000000002" y="405.9" text-anchor="middle" style='font-family:"Liberation Serif", serif;font-size:8.3px;font-weight:normal;font-style:normal' fill="#222" textLength="9.2" lengthAdjust="spacingAndGlyphs">10</text>
<text x="204.5" y="340.29999999999995" text-anchor="end" style='font-family:"Liberation Serif", serif;font-size:8.3px;font-weight:normal;font-style:normal' fill="#222" textLength="13.3" lengthAdjust="spacingAndGlyphs">100</text>
<text x="264.7" y="405.9" text-anchor="middle" style='font-family:"Liberation Serif", serif;font-size:8.3px;font-weight:normal;font-style:normal' fill="#222" textLength="14.6" lengthAdjust="spacingAndGlyphs">100</text>
<text x="204.5" y="312.4" text-anchor="end" style='font-family:"Liberation Serif", serif;font-size:8.3px;font-weight:normal;font-style:normal' fill="#222" textLength="17.6" lengthAdjust="spacingAndGlyphs">1000</text>
<text x="293.2" y="405.9" text-anchor="middle" style='font-family:"Liberation Serif", serif;font-size:8.3px;font-weight:normal;font-style:normal' fill="#222" textLength="18.6" lengthAdjust="spacingAndGlyphs">1000</text>
<text x="204.5" y="284.49999999999994" text-anchor="end" style='font-family:"Liberation Serif", serif;font-size:8.3px;font-weight:normal;font-style:normal' fill="#222" textLength="22.5" lengthAdjust="spacingAndGlyphs">10000</text>
<text x="321.2" y="405.9" text-anchor="middle" style='font-family:"Liberation Serif", serif;font-size:8.3px;font-weight:normal;font-style:normal' fill="#222" textLength="23.6" lengthAdjust="spacingAndGlyphs">10000</text>
<path d="M208.3,393.4 L208.3,278.6 L323.8,278.6 L323.8,393.4" fill="none" stroke="#666" stroke-width="1"/>
<line x1="207.80" y1="393.40" x2="324.30" y2="393.40" stroke="#111" stroke-width="1.6" />
<rect x="265.90" y="307.50" width="48.50" height="28.20" fill="none" stroke="#555" stroke-width="0.9"/>
<text x="302.8" y="326.3" text-anchor="start" style='font-family:"Liberation Sans", sans-serif;font-size:11.5px;font-weight:normal;font-style:normal' fill="#111">6</text>
<text x="360.4" y="252" text-anchor="start" style='font-family:"Liberation Sans", sans-serif;font-size:23.5px;font-weight:bold;font-style:normal' fill="#111">E</text>
<rect x="393.30" y="278.70" width="89.20" height="132.90" fill="none" stroke="#111" stroke-width="2.6"/>
<line x1="438.00" y1="280.00" x2="438.00" y2="410.30" stroke="#777" stroke-width="1.1" />
<line x1="389.20" y1="411.60" x2="392.00" y2="411.60" stroke="#111" stroke-width="1" />
<text x="388.6" y="416.94" text-anchor="end" style='font-family:"Liberation Sans", sans-serif;font-size:10.0px;font-weight:normal;font-style:normal' fill="#111">0</text>
<line x1="389.20" y1="396.82" x2="392.00" y2="396.82" stroke="#111" stroke-width="1" />
<text x="388.6" y="402.08" text-anchor="end" style='font-family:"Liberation Sans", sans-serif;font-size:10.0px;font-weight:normal;font-style:normal' fill="#111">1</text>
<line x1="389.20" y1="382.04" x2="392.00" y2="382.04" stroke="#111" stroke-width="1" />
<text x="388.6" y="387.21999999999997" text-anchor="end" style='font-family:"Liberation Sans", sans-serif;font-size:10.0px;font-weight:normal;font-style:normal' fill="#111">2</text>
<line x1="389.20" y1="367.26" x2="392.00" y2="367.26" stroke="#111" stroke-width="1" />
<text x="388.6" y="372.36" text-anchor="end" style='font-family:"Liberation Sans", sans-serif;font-size:10.0px;font-weight:normal;font-style:normal' fill="#111">3</text>
<line x1="389.20" y1="352.48" x2="392.00" y2="352.48" stroke="#111" stroke-width="1" />
<text x="388.6" y="357.5" text-anchor="end" style='font-family:"Liberation Sans", sans-serif;font-size:10.0px;font-weight:normal;font-style:normal' fill="#111">4</text>
<line x1="389.20" y1="337.70" x2="392.00" y2="337.70" stroke="#111" stroke-width="1" />
<text x="388.6" y="342.64" text-anchor="end" style='font-family:"Liberation Sans", sans-serif;font-size:10.0px;font-weight:normal;font-style:normal' fill="#111">5</text>
<line x1="389.20" y1="322.92" x2="392.00" y2="322.92" stroke="#111" stroke-width="1" />
<text x="388.6" y="327.78" text-anchor="end" style='font-family:"Liberation Sans", sans-serif;font-size:10.0px;font-weight:normal;font-style:normal' fill="#111">6</text>
<line x1="389.20" y1="308.14" x2="392.00" y2="308.14" stroke="#111" stroke-width="1" />
<text x="388.6" y="312.91999999999996" text-anchor="end" style='font-family:"Liberation Sans", sans-serif;font-size:10.0px;font-weight:normal;font-style:normal' fill="#111">7</text>
<line x1="389.20" y1="293.36" x2="392.00" y2="293.36" stroke="#111" stroke-width="1" />
<text x="388.6" y="298.06" text-anchor="end" style='font-family:"Liberation Sans", sans-serif;font-size:10.0px;font-weight:normal;font-style:normal' fill="#111">8</text>
<line x1="389.20" y1="278.58" x2="392.00" y2="278.58" stroke="#111" stroke-width="1" />
<text x="388.6" y="283.2" text-anchor="end" style='font-family:"Liberation Sans", sans-serif;font-size:10.0px;font-weight:normal;font-style:normal' fill="#111">9</text>
<rect x="401.00" y="299.20" width="14.00" height="112.40" fill="#9a9a9a" stroke="#111" stroke-width="2"/>
<rect x="419.10" y="326.00" width="13.70" height="85.60" fill="#fff" stroke="#111" stroke-width="2"/>
<rect x="446.20" y="307.20" width="14.40" height="104.40" fill="#9a9a9a" stroke="#111" stroke-width="2"/>
<rect x="463.80" y="328.10" width="12.90" height="83.50" fill="#fff" stroke="#111" stroke-width="2"/>
<line x1="408.00" y1="295.30" x2="408.00" y2="302.60" stroke="#888" stroke-width="1.4" />
<line x1="405.50" y1="295.30" x2="410.50" y2="295.30" stroke="#888" stroke-width="1.4" />
<line x1="405.50" y1="302.60" x2="410.50" y2="302.60" stroke="#888" stroke-width="1.4" />
<line x1="425.95" y1="324.00" x2="425.95" y2="327.30" stroke="#888" stroke-width="1.4" />
<line x1="423.45" y1="324.00" x2="428.45" y2="324.00" stroke="#888" stroke-width="1.4" />
<line x1="423.45" y1="327.30" x2="428.45" y2="327.30" stroke="#888" stroke-width="1.4" />
<line x1="453.40" y1="297.30" x2="453.40" y2="315.60" stroke="#888" stroke-width="1.4" />
<line x1="450.90" y1="297.30" x2="455.90" y2="297.30" stroke="#888" stroke-width="1.4" />
<line x1="450.90" y1="315.60" x2="455.90" y2="315.60" stroke="#888" stroke-width="1.4" />
<line x1="470.25" y1="319.70" x2="470.25" y2="333.50" stroke="#888" stroke-width="1.4" />
<line x1="467.75" y1="319.70" x2="472.75" y2="319.70" stroke="#888" stroke-width="1.4" />
<line x1="467.75" y1="333.50" x2="472.75" y2="333.50" stroke="#888" stroke-width="1.4" />
<line x1="390.90" y1="382.30" x2="481.50" y2="382.30" stroke="#111" stroke-width="1.9" stroke-dasharray="3.7 7.4"/>
<text x="391.2" y="272.6" text-anchor="start" style='font-family:"Liberation Sans", sans-serif;font-size:10.8px;font-weight:normal;font-style:normal' fill="#111" textLength="42.3" lengthAdjust="spacingAndGlyphs">BALB/c</text>
<text x="439.3" y="258.2" text-anchor="start" style='font-family:"Liberation Sans", sans-serif;font-size:11.2px;font-weight:normal;font-style:normal' fill="#111" textLength="33.1" lengthAdjust="spacingAndGlyphs">MCP-1</text>
<text x="439.3" y="272.3" text-anchor="start" style='font-family:"Liberation Sans", sans-serif;font-size:11.2px;font-weight:normal;font-style:normal' fill="#111" textLength="38.4" lengthAdjust="spacingAndGlyphs">x CCR2</text>
<text x="475.1" y="253.7" text-anchor="start" style='font-family:"Liberation Sans", sans-serif;font-size:9px;font-weight:normal;font-style:normal' fill="#111" textLength="11.0" lengthAdjust="spacingAndGlyphs">-/-</text>
<text x="479.6" y="267.9" text-anchor="start" style='font-family:"Liberation Sans", sans-serif;font-size:9px;font-weight:normal;font-style:normal' fill="#111" textLength="10.4" lengthAdjust="spacingAndGlyphs">-/-</text>
<text x="380.0" y="426.6" text-anchor="start" style='font-family:"Liberation Sans", sans-serif;font-size:11.2px;font-weight:normal;font-style:normal' fill="#111" textLength="113.0" lengthAdjust="spacingAndGlyphs">Salivary glands (d14)</text>
<text transform="translate(369.2,408.2) rotate(-90)" x="0" y="0" text-anchor="start" style='font-family:"Liberation Sans", sans-serif;font-size:11.6px;font-weight:normal;font-style:normal' fill="#111" textLength="16.4" lengthAdjust="spacingAndGlyphs">log</text>
<text transform="translate(374.0,390.6) rotate(-90)" x="0" y="0" text-anchor="start" style='font-family:"Liberation Sans", sans-serif;font-size:8.6px;font-weight:normal;font-style:normal' fill="#111" textLength="10.4" lengthAdjust="spacingAndGlyphs">10</text>
<text transform="translate(369.2,377.8) rotate(-90)" x="0" y="0" text-anchor="start" style='font-family:"Liberation Sans", sans-serif;font-size:11.6px;font-weight:normal;font-style:normal' fill="#111" textLength="107.4" lengthAdjust="spacingAndGlyphs">Virus Titer (PFU/g)</text>
<defs><clipPath id="cp1"><rect x="63.5" y="279.5" width="115.1" height="114.10000000000002"/></clipPath><clipPath id="cp2"><rect x="208.3" y="278.6" width="115.5" height="114.79999999999995"/></clipPath></defs><g clip-path="url(#cp1)"><path d="M60.5 358.9 64.4 358.5 67.2 357.5 69.7 356.0 73.2 352.8 80.5 343.8 85.4 336.2 93.8 328.0 106.8 313.2 118.0 303.6 123.2 300.4 125.8 298.4 128.0 296.2 131.4 291.2 138.8 283.7 143.5 280.6 145.8 279.5 148.2 279.2 150.8 279.9 152.2 281.1 153.7 283.2 155.9 288.5 156.6 291.2 156.5 295.2 156.1 297.8 152.8 306.8 147.7 316.2 143.8 321.6 139.0 326.1 131.2 332.0 129.5 332.7 126.5 333.1 125.4 333.8 124.6 335.2 124.3 338.5 122.8 340.5 122.4 341.5 122.6 342.5 124.0 344.0 124.4 345.0 124.8 349.2 126.0 354.8 128.5 357.5 131.2 361.7 131.6 362.8 130.9 367.5 129.6 371.2 128.5 373.1 126.2 375.2 125.7 376.5 126.7 379.8 126.3 382.5 126.5 383.4 127.8 384.3 130.8 385.1 131.5 386.0 131.3 389.5 132.6 392.8 132.8 394.0 132.2 395.0 130.5 396.5 M125.7 396.5 124.0 395.9 117.5 395.4 115.8 394.8 115.3 393.5 115.8 390.2 114.3 386.0 113.8 385.5 111.5 385.2 110.5 384.6 109.6 383.2 109.6 380.8 108.9 379.5 106.1 377.0 104.2 376.5 102.8 377.0 101.0 379.1 98.5 381.1 97.0 385.0 95.0 387.5 93.7 393.0 94.0 396.5 M119.3 384.5 118.7 383.5 117.8 383.1 117.2 383.2 117.9 384.2 118.8 384.6 119.3 384.5 M60.5 359.4 65.0 359.0 67.4 358.2 70.4 356.5 74.7 352.8 81.5 344.5 86.4 336.8 94.0 329.4 99.8 323.3 106.8 314.9 109.0 312.7 118.0 305.8 123.5 303.2 128.7 297.2 132.4 291.8 139.2 284.7 141.8 283.1 146.8 280.9 149.2 281.1 151.3 282.5 155.4 290.0 156.0 293.5 155.9 296.2 155.4 298.8 153.8 303.0 151.9 307.0 144.5 319.0 142.8 321.1 140.5 323.2 135.8 326.2 129.2 329.6 127.2 330.1 124.0 330.2 122.8 331.0 121.4 333.2 120.1 337.5 118.5 340.0 117.4 342.8 115.8 345.6 115.5 347.0 115.8 348.5 117.7 351.5 120.0 354.1 121.2 358.0 122.2 359.1 124.7 360.5 125.1 361.2 125.0 362.2 124.0 363.3 120.6 364.5 122.1 367.8 122.3 369.0 122.0 369.8 120.8 370.1 116.5 368.9 113.2 368.9 110.8 367.6 105.6 370.2 103.5 372.0 102.2 372.2 100.8 371.9 99.5 371.0 99.1 369.8 99.9 368.8 102.0 367.5 102.5 366.5 102.2 365.5 100.9 364.0 100.6 363.2 101.1 362.5 103.8 360.2 104.3 359.0 104.2 357.5 103.5 356.6 102.2 356.4 96.8 357.9 95.8 358.8 95.7 361.8 94.7 364.5 96.7 367.5 97.1 369.2 93.8 373.7 92.8 375.8 93.0 377.5 94.6 381.0 94.9 382.8 94.7 384.2 93.3 387.8 92.6 393.0 92.9 396.5 M128.2 394.6 125.0 394.6 121.0 394.0 120.3 393.5 120.0 392.8 120.4 390.8 121.5 389.6 123.2 388.9 125.0 388.8 126.8 389.4 128.3 390.5 129.6 392.8 129.5 393.8 128.2 394.6 M60.5 359.9 65.0 359.6 67.2 359.0 71.4 357.0 75.3 353.8 82.7 344.8 85.2 341.2 87.5 337.2 100.8 323.9 105.9 317.5 108.5 314.8 114.2 310.3 116.2 309.1 120.2 307.6 123.0 308.1 124.2 307.5 125.4 305.8 126.8 301.8 129.5 298.1 131.9 294.0 139.5 285.9 142.0 284.3 146.8 282.7 148.8 282.8 150.5 284.1 155.1 291.8 155.5 294.5 155.3 297.2 153.9 301.8 151.8 306.0 143.1 319.0 139.5 322.4 134.5 324.8 130.2 326.0 124.2 326.1 122.2 326.8 121.0 328.1 118.8 332.4 117.1 337.2 115.4 340.8 112.1 345.8 105.2 351.6 99.2 354.6 95.0 356.0 93.3 357.2 93.1 358.0 93.3 361.0 92.5 364.5 93.4 367.8 93.4 371.0 91.7 376.5 92.0 378.2 93.6 381.5 93.8 383.0 92.5 387.1 91.8 392.0 92.1 396.5 M124.8 392.6 124.4 392.5 125.0 392.5 124.8 392.6 M132.8 323.5 130.0 323.7 127.2 322.6 126.0 321.2 124.6 318.0 124.3 315.5 124.5 313.5 128.0 302.8 132.8 294.5 139.8 287.1 141.5 285.8 143.5 285.1 146.5 284.5 148.2 284.8 150.1 286.2 152.2 289.7 154.0 291.5 154.7 292.8 155.0 296.5 153.7 301.2 150.9 306.5 147.8 310.3 145.1 314.5 141.0 319.7 138.0 322.0 132.8 323.5 M60.5 360.4 66.2 360.0 71.0 358.5 74.1 359.2 75.2 359.2 80.0 356.0 80.3 355.5 80.1 355.0 78.2 353.5 78.4 352.0 80.1 349.2 85.8 342.5 88.9 337.2 95.0 331.2 98.2 327.6 101.5 324.7 106.5 318.6 109.8 315.3 113.8 312.5 115.8 311.5 118.2 311.0 119.8 311.7 120.3 313.5 119.6 317.0 121.0 320.5 120.9 323.5 116.2 333.4 114.7 337.8 111.6 343.2 110.0 344.9 105.0 348.4 102.0 350.0 99.1 352.2 90.9 356.5 90.2 357.2 90.2 358.0 91.4 359.5 91.8 360.5 91.3 364.5 92.4 369.2 92.3 372.0 91.0 375.5 90.9 377.2 92.9 382.8 91.8 387.0 91.0 391.8 91.4 396.5 M135.0 321.5 132.0 321.7 129.8 321.2 128.0 320.0 127.1 318.2 126.7 315.8 126.8 313.0 127.5 308.5 129.0 303.5 133.4 295.2 139.8 288.5 141.5 287.2 143.2 286.5 145.5 286.3 147.8 286.7 149.5 287.8 151.7 291.0 153.5 292.3 154.2 293.4 154.6 296.5 153.7 300.2 152.4 303.2 150.8 305.8 147.0 310.0 144.6 313.8 141.8 317.2 138.5 320.3 135.0 321.5 M90.8 355.3 88.2 355.4 83.8 354.5 80.8 351.8 80.7 351.0 81.2 349.8 86.5 343.2 90.0 337.8 98.6 328.5 102.2 325.2 106.8 319.9 112.0 315.4 114.0 314.7 115.5 314.8 116.0 315.5 116.7 318.5 118.2 321.8 118.3 323.5 113.6 336.0 110.5 341.7 109.0 343.3 104.0 346.7 100.8 348.5 95.5 353.3 93.2 354.6 90.8 355.3 M60.5 360.8 66.2 360.6 70.5 359.4 74.0 360.2 75.5 360.3 77.0 359.8 79.2 358.3 80.8 357.9 82.0 358.2 84.5 359.6 88.2 359.7 90.1 360.5 90.5 361.8 90.5 365.2 91.3 368.5 91.6 371.0 91.4 372.5 90.3 376.0 90.2 377.5 92.1 382.8 90.3 391.5 90.5 396.5 M63.7 396.5 63.2 395.8 62.3 395.2 60.5 395.0 M81.8 396.5 81.2 395.6 80.0 395.2 77.8 395.8 77.0 396.5 M135.0 320.0 132.8 320.0 130.8 319.4 129.3 318.2 128.6 316.8 128.3 314.5 128.5 309.8 130.1 303.5 134.1 296.0 140.0 289.7 141.8 288.5 143.2 288.0 145.2 288.0 147.8 288.5 149.2 289.6 150.8 292.1 153.0 293.2 153.9 294.2 154.2 295.5 154.1 297.2 152.9 301.2 150.5 305.4 146.5 309.3 144.1 313.0 141.8 315.7 138.2 318.9 136.8 319.7 135.0 320.0 M92.0 354.3 90.0 354.3 88.6 353.8 86.5 351.4 83.7 350.2 83.4 349.5 83.8 348.5 87.5 343.6 90.9 338.2 96.2 332.7 99.1 329.2 102.5 326.1 106.0 322.0 108.0 320.1 110.2 318.6 112.0 317.9 113.2 318.1 114.2 319.3 115.2 321.2 115.5 322.8 115.5 324.2 114.4 329.5 112.2 335.2 110.1 339.2 108.2 341.5 103.1 345.2 100.0 347.1 97.3 350.8 95.5 352.5 93.8 353.7 92.0 354.3 M60.5 361.4 66.5 361.0 70.2 360.2 74.0 360.9 75.8 361.0 80.5 359.2 84.2 360.7 88.2 361.0 89.0 361.4 89.5 362.2 89.8 366.1 90.8 371.5 89.5 376.5 89.4 378.0 89.8 379.2 91.1 381.5 91.4 383.0 89.5 391.2 89.2 395.5 88.8 396.0 88.2 396.0 83.8 395.0 81.2 393.8 80.2 393.6 75.0 394.4 72.0 395.8 69.5 396.5 M67.6 396.5 62.5 394.0 60.5 393.7 M135.0 318.5 133.0 318.3 131.5 317.7 130.6 316.8 129.9 315.2 129.6 312.2 129.6 309.2 131.1 303.5 134.9 296.5 140.0 291.2 141.8 290.0 143.2 289.5 145.2 289.6 147.2 290.1 148.4 291.0 149.9 293.5 152.5 294.0 153.5 295.0 153.6 297.5 152.4 301.5 150.2 304.9 146.0 308.5 143.5 312.5 141.2 314.9 137.8 317.7 135.0 318.5 M92.5 353.5 90.8 353.6 89.6 353.0 89.0 351.8 88.5 349.1 87.0 347.5 87.2 346.2 90.1 341.2 93.0 337.5 97.1 333.2 106.8 322.3 108.5 320.9 110.0 320.2 111.2 320.1 112.5 320.5 113.4 321.5 113.8 322.8 113.4 327.0 112.8 329.0 109.0 338.2 107.2 340.3 99.2 345.9 96.2 351.0 94.5 352.6 92.5 353.5 M60.5 362.1 66.8 361.5 70.0 360.9 76.0 361.6 80.5 360.5 84.0 361.5 87.0 361.7 88.0 362.0 88.8 363.2 89.0 367.8 90.0 372.0 88.6 378.8 88.8 379.8 90.2 381.8 90.5 383.0 88.4 392.8 88.1 393.5 87.5 393.9 84.5 393.7 81.6 392.5 80.2 392.3 77.5 392.8 74.8 392.9 71.2 394.3 67.5 394.8 65.8 394.4 62.8 392.9 60.5 392.3 M135.5 317.0 133.8 316.9 132.5 316.3 131.7 315.2 131.1 313.8 130.6 309.2 131.9 304.0 135.3 297.5 139.2 293.3 141.0 291.9 142.8 291.2 144.5 291.1 146.2 291.5 147.5 292.5 149.0 295.2 151.8 294.9 152.8 295.5 153.2 297.5 152.2 301.0 151.1 303.0 149.8 304.7 145.2 308.0 142.9 311.8 141.0 313.9 138.0 316.2 135.5 317.0 M92.8 352.8 91.0 352.8 90.3 352.2 90.1 351.5 90.3 349.5 91.9 346.2 90.3 344.2 90.6 343.0 91.3 341.5 94.2 337.8 98.3 333.5 106.5 323.4 108.0 322.2 109.5 321.4 110.8 321.3 111.8 321.6 112.7 323.2 112.4 326.5 111.6 328.8 109.4 332.8 107.9 337.5 106.0 339.6 97.8 345.0 97.2 346.0 96.8 348.5 96.2 350.0 94.5 351.9 92.8 352.8 M60.5 363.4 63.0 362.3 70.0 361.5 75.5 362.2 80.8 361.5 87.0 362.5 87.7 363.0 88.1 363.8 88.2 368.5 89.2 372.5 87.6 379.2 87.9 380.8 89.2 382.8 88.8 385.2 88.8 388.5 88.1 391.0 87.0 392.4 85.0 392.5 80.2 391.3 74.8 391.8 67.0 393.5 62.3 391.5 60.5 389.7 M60.5 374.6 61.0 374.0 61.2 372.8 61.0 371.6 60.5 371.0 M60.5 387.5 60.5 385.9 M136.5 315.5 134.5 315.5 133.0 314.5 132.0 312.5 131.6 309.8 131.9 307.2 132.6 304.5 135.1 299.5 136.6 297.2 140.2 293.9 141.8 293.0 143.2 292.7 144.8 292.8 146.0 293.5 146.7 294.5 147.5 297.2 148.0 297.6 151.0 296.2 152.0 296.2 152.5 297.2 152.4 299.0 151.5 301.2 150.3 303.2 148.8 304.6 146.0 305.7 144.5 307.4 141.1 312.5 138.8 314.5 136.5 315.5 M95.5 343.0 93.8 343.0 93.1 342.2 93.5 341.0 95.2 338.2 102.0 330.6 106.6 324.2 109.0 322.5 110.0 322.3 111.0 322.5 111.8 324.0 111.5 326.8 110.7 328.5 107.8 332.5 107.0 336.0 106.2 337.3 104.5 339.0 100.5 341.5 98.0 342.5 95.5 343.0 M93.0 352.0 92.0 352.1 91.3 351.8 91.0 351.0 91.3 349.8 93.0 347.6 94.0 347.1 95.0 347.0 95.8 348.0 95.6 349.5 94.5 351.1 93.0 352.0 M86.2 391.5 84.8 391.5 80.2 390.4 71.8 391.4 70.3 390.8 68.8 388.6 68.0 388.2 67.2 388.6 66.5 390.8 66.0 391.1 64.0 390.9 62.7 390.2 62.2 389.0 62.0 384.5 61.1 380.5 61.4 376.8 62.1 372.5 60.5 367.0 61.6 364.5 62.4 363.2 64.0 362.7 70.0 362.2 75.0 362.7 81.2 362.4 86.0 363.1 87.0 363.5 87.5 364.8 87.5 369.0 88.6 372.8 88.4 374.2 87.0 378.0 86.7 379.8 87.2 384.5 88.2 388.2 87.6 390.5 86.2 391.5 M136.8 314.1 135.5 314.1 134.5 313.7 133.1 311.8 132.7 308.5 133.4 305.0 136.1 299.5 138.2 296.7 141.5 294.6 143.0 294.3 144.2 294.5 145.2 295.4 145.8 297.0 146.0 301.5 145.6 303.5 141.0 311.2 138.8 313.2 136.8 314.1 M149.0 303.1 148.2 303.0 147.9 302.5 148.1 300.8 149.8 298.3 151.2 297.6 151.7 298.5 151.2 300.4 150.2 302.1 149.0 303.1 M99.8 340.0 98.0 340.2 97.0 339.8 96.8 339.0 97.4 337.8 100.0 334.5 103.5 331.0 105.1 327.2 106.7 325.0 108.8 323.5 110.3 323.5 111.0 324.8 110.5 327.0 109.2 328.9 106.0 332.0 104.8 336.5 102.8 338.5 99.8 340.0 M93.5 350.8 92.5 350.8 92.4 350.0 93.2 349.0 94.2 348.8 94.4 349.8 93.5 350.8 M86.2 390.6 84.8 390.7 80.0 389.5 72.2 390.5 71.0 390.0 69.1 387.8 68.0 387.3 67.0 387.6 65.0 389.5 64.2 389.6 63.5 389.1 63.1 388.0 63.0 384.0 62.2 378.0 62.7 372.5 61.8 367.2 62.1 365.2 63.1 363.8 64.8 363.1 69.5 362.8 74.2 363.2 82.0 363.1 85.2 363.6 86.4 364.2 86.8 365.2 87.0 369.5 88.0 373.2 86.1 379.2 86.2 384.5 87.6 388.2 87.2 389.8 86.2 390.6 M137.5 312.3 135.5 312.3 134.2 310.9 133.7 308.5 134.2 305.5 136.2 301.0 138.0 298.2 140.5 296.4 141.8 296.0 143.0 296.1 144.0 296.8 144.6 298.5 144.6 301.5 144.1 304.2 143.2 306.2 140.7 310.0 139.2 311.4 137.5 312.3 M107.2 329.0 106.5 329.1 106.0 328.8 106.2 327.0 107.8 325.1 108.8 324.5 109.5 324.6 110.0 325.5 109.7 326.8 108.8 328.1 107.2 329.0 M101.2 337.3 100.2 337.3 100.4 336.2 101.8 334.8 102.8 334.7 103.0 335.2 102.8 336.0 101.2 337.3 M86.0 389.8 84.8 389.9 79.8 388.7 72.5 389.8 71.2 389.2 69.2 387.2 68.0 386.7 66.8 386.9 65.0 388.0 64.3 387.8 64.0 386.8 63.9 382.8 63.0 377.8 63.3 373.0 62.5 367.5 62.7 365.8 63.6 364.2 65.0 363.6 68.8 363.3 73.1 363.8 82.5 363.7 84.8 364.1 85.7 364.8 86.1 365.8 86.5 369.5 87.4 373.2 85.5 379.2 85.6 384.8 86.9 388.2 86.6 389.2 86.0 389.8 M138.2 310.5 136.5 310.7 135.4 309.8 134.9 308.0 135.2 305.5 136.6 302.0 138.2 299.5 140.2 298.0 142.0 297.8 143.0 298.5 143.4 299.8 143.5 302.0 143.1 304.2 142.4 306.0 140.8 308.4 139.5 309.7 138.2 310.5 M85.2 389.0 81.2 388.0 79.2 387.9 77.0 388.0 74.2 388.9 72.8 389.0 71.8 388.7 68.8 386.3 65.3 386.0 63.7 377.5 64.0 373.0 63.1 367.8 63.3 366.0 64.2 364.6 65.5 364.1 67.5 363.8 72.8 364.3 77.8 364.0 83.2 364.4 85.1 365.2 85.6 366.5 86.0 369.8 86.8 373.2 85.0 379.0 85.0 385.0 86.0 388.0 85.8 388.7 85.2 389.0 M138.5 308.8 137.2 308.9 136.3 308.0 136.1 306.5 136.4 304.8 137.3 302.5 138.5 300.8 140.0 299.7 141.2 299.6 142.0 300.2 142.4 301.2 142.2 304.2 140.8 306.9 138.5 308.8 M73.5 388.3 72.0 388.0 69.7 386.2 66.8 385.2 66.0 384.4 64.5 377.2 64.7 373.5 63.7 368.0 64.0 366.0 65.2 364.8 67.2 364.4 73.0 364.9 77.8 364.5 83.8 365.1 84.5 365.7 85.0 366.5 86.2 373.0 84.5 378.8 84.4 387.2 83.8 387.6 77.0 387.0 73.5 388.3 M138.8 307.0 138.0 307.0 137.5 306.5 137.5 304.2 138.8 302.2 139.8 301.5 140.5 301.5 141.2 302.6 141.1 304.5 140.2 306.0 138.8 307.0 M73.8 387.3 72.0 387.1 70.0 385.8 67.3 384.5 66.5 383.5 65.5 377.8 65.6 374.2 64.5 368.0 64.8 366.3 65.8 365.3 67.5 364.9 73.2 365.5 77.8 364.9 83.2 365.7 84.0 366.2 84.4 367.0 85.5 373.0 83.9 378.5 84.1 382.8 83.5 385.2 82.5 386.1 76.8 386.0 73.8 387.3 M73.8 386.3 72.8 386.4 71.8 386.1 68.0 384.1 67.1 383.0 66.4 378.0 66.7 374.8 65.8 371.2 65.5 367.8 65.7 366.8 66.3 366.0 67.5 365.7 73.5 366.0 77.2 365.3 82.8 366.2 83.9 367.5 84.9 373.0 83.3 378.8 83.5 382.5 83.2 384.0 82.8 384.8 81.8 385.2 77.0 385.1 73.8 386.3 M73.2 385.5 72.0 385.4 68.8 383.8 67.6 382.2 67.2 378.2 67.6 374.8 66.7 371.2 67.2 367.2 67.8 366.7 69.0 366.3 73.8 366.6 77.2 365.7 82.0 366.6 82.8 367.1 83.2 368.0 84.2 372.8 84.0 374.5 82.7 379.0 82.9 382.0 82.7 383.2 82.2 383.9 81.2 384.3 77.8 383.7 73.2 385.5 M74.0 384.5 72.5 384.6 70.0 383.6 68.9 383.0 68.3 382.0 68.0 378.2 68.4 374.8 67.6 371.5 68.3 368.0 69.0 367.1 70.2 366.8 74.0 367.1 77.8 366.2 81.0 366.9 82.0 367.5 82.5 368.2 83.4 373.0 83.2 375.2 81.8 379.5 81.9 382.2 81.5 382.8 80.8 382.8 79.2 381.3 78.2 381.1 76.1 383.5 74.0 384.5 M73.8 383.8 72.5 383.7 70.2 382.7 69.0 381.5 68.7 378.0 69.1 374.8 68.4 371.5 69.1 368.5 69.6 367.8 70.5 367.4 74.2 367.8 77.5 366.8 80.2 367.2 81.5 368.0 82.0 369.2 82.6 374.0 82.1 376.8 80.8 379.1 77.4 380.0 75.5 382.9 73.8 383.8 M74.2 382.8 73.2 382.9 71.7 382.2 70.5 381.5 69.9 380.5 69.4 378.0 69.7 374.5 69.3 371.8 69.6 369.2 70.3 368.2 71.5 368.0 75.8 369.5 77.2 367.6 78.2 367.4 79.5 367.6 80.6 368.2 81.1 369.2 81.8 374.5 81.6 376.2 80.2 378.3 77.5 378.9 76.5 379.5 75.2 382.0 74.2 382.8 M74.0 381.6 73.0 381.6 71.8 381.0 71.0 380.2 70.4 379.0 70.3 371.8 70.6 369.5 71.2 368.9 72.2 369.0 74.2 371.0 75.8 371.1 77.2 370.5 78.2 368.7 79.2 368.6 80.1 369.5 81.1 374.5 80.9 376.2 79.8 377.7 76.1 378.8 74.0 381.6 M73.5 380.0 72.8 380.0 72.0 379.6 71.1 378.0 71.2 374.8 71.7 372.8 72.5 372.3 75.3 372.0 78.2 371.2 79.0 371.4 80.3 374.2 80.4 375.5 80.0 376.4 79.0 377.2 75.9 378.0 73.5 380.0 M73.5 378.3 72.5 378.0 71.9 377.0 71.9 375.0 72.5 373.8 73.5 373.2 77.0 372.3 78.0 372.2 78.8 372.6 79.6 374.5 79.2 376.1 78.5 376.6 76.0 377.2 73.5 378.3 M74.5 376.8 73.5 376.8 72.9 376.2 72.9 375.2 73.4 374.2 76.8 373.1 78.3 373.5 78.7 374.5 78.4 375.5 74.5 376.8" fill="none" stroke="#111" stroke-width="0.85" stroke-linejoin="round"/></g>
<g clip-path="url(#cp2)"><path d="M205.3 358.0 211.9 357.6 216.1 356.8 217.6 356.1 220.2 353.9 222.7 350.1 225.6 346.8 231.0 338.9 234.3 335.0 237.4 328.6 242.6 320.4 246.6 314.7 248.1 313.2 249.3 312.5 250.6 312.3 254.1 313.4 261.1 315.0 262.6 314.6 264.1 312.2 264.9 310.1 265.7 303.4 267.9 297.6 274.6 287.4 277.8 283.5 281.8 281.4 287.6 280.3 290.8 280.5 295.1 282.2 296.6 283.0 297.6 284.1 299.7 288.1 300.1 289.9 298.4 297.1 291.8 308.4 290.8 311.6 291.0 317.4 291.7 320.6 291.0 325.1 292.1 338.9 291.7 343.1 293.0 347.6 293.0 352.4 293.8 356.4 294.0 360.1 295.6 363.1 295.8 367.1 295.7 371.9 295.0 378.9 295.2 380.6 296.2 383.6 296.3 385.4 295.4 390.1 293.7 393.9 293.5 396.4 M245.7 396.4 245.1 395.0 242.2 391.9 241.1 388.4 240.1 387.5 239.3 387.9 238.8 389.4 238.9 396.4 M205.3 358.6 217.1 357.6 218.6 356.9 220.8 354.8 223.6 350.9 226.3 347.8 228.5 344.1 232.0 339.4 235.6 335.1 238.3 329.6 241.8 324.4 243.7 320.9 247.1 316.6 248.8 315.1 250.1 314.5 251.1 314.5 256.1 315.7 258.6 316.6 263.3 319.6 265.3 320.2 266.3 320.0 267.1 318.4 267.3 315.1 268.0 311.6 267.9 308.6 267.2 305.1 267.6 302.9 269.6 298.1 277.3 285.6 278.6 284.4 280.3 283.4 283.1 282.4 286.3 281.7 290.1 281.6 294.6 283.2 296.5 284.6 298.2 287.6 298.9 289.6 298.7 291.6 297.8 295.6 297.1 297.4 293.1 304.1 289.9 307.9 288.7 309.9 288.3 311.4 287.6 317.4 287.8 318.6 289.3 321.4 290.2 338.6 289.6 344.6 290.6 349.4 290.6 352.6 291.1 356.6 291.0 361.1 292.4 364.9 292.6 366.6 292.1 371.4 292.3 376.6 291.9 380.9 292.8 385.6 292.4 389.9 290.5 393.6 290.4 396.4 M251.0 396.4 250.3 395.6 247.6 394.4 246.3 393.4 243.7 389.9 241.8 386.3 241.1 385.5 240.1 385.1 238.8 385.9 237.8 388.4 237.6 392.4 237.9 396.4 M287.4 396.4 286.7 394.9 285.3 394.0 284.0 394.6 283.3 396.4 M205.3 359.2 209.6 358.8 218.6 358.6 219.8 358.1 224.1 352.2 227.1 348.8 229.4 344.9 232.9 340.1 237.2 335.1 239.6 329.9 242.8 325.4 245.1 321.1 247.8 318.1 250.6 316.6 253.1 316.7 257.1 318.0 263.6 322.5 264.5 323.6 265.3 326.9 266.0 334.4 266.0 337.1 265.2 342.4 265.3 345.4 265.6 346.0 266.1 346.0 268.3 341.6 268.7 337.4 270.6 330.4 270.3 326.1 271.0 321.6 272.5 317.1 271.5 314.6 272.5 311.6 272.4 310.1 270.1 307.0 269.2 304.9 269.3 303.1 270.2 300.9 275.3 291.9 277.6 287.1 279.3 285.2 283.6 283.4 287.6 282.8 290.6 283.0 294.6 284.5 295.8 285.6 297.0 287.9 297.6 289.4 297.7 290.9 296.4 296.4 293.0 302.4 291.3 304.5 286.8 308.2 281.8 309.7 278.3 310.2 277.1 310.6 275.9 312.1 274.9 315.4 275.4 316.6 277.1 317.8 278.6 318.1 281.3 317.8 282.8 318.7 285.4 321.9 287.2 325.1 287.8 326.9 288.2 330.9 288.3 339.4 287.4 345.1 288.7 355.4 288.2 361.4 289.9 367.1 289.3 371.9 289.3 383.6 288.6 387.6 287.8 388.9 283.8 390.1 279.8 392.4 274.8 392.4 269.3 393.6 265.6 393.7 264.1 394.7 263.1 396.4 M240.2 372.4 240.8 370.9 240.4 367.4 241.0 364.6 240.3 362.9 239.3 362.2 238.8 362.6 238.7 363.6 239.7 367.1 238.8 370.1 239.3 371.7 239.8 372.3 240.2 372.4 M259.9 396.4 259.4 395.6 258.1 394.6 254.4 393.1 252.3 392.4 248.8 392.2 247.6 391.5 244.6 388.1 241.0 382.6 240.6 378.9 240.3 378.2 239.8 377.9 238.8 378.8 238.2 380.4 238.5 383.4 237.2 387.4 236.7 392.1 236.9 396.4 M281.3 307.6 279.3 307.6 273.1 306.2 272.0 305.4 271.3 303.9 271.9 301.1 278.3 288.1 279.1 286.9 280.3 285.9 284.8 284.2 289.6 284.0 293.6 285.2 295.2 286.9 296.6 290.4 295.9 294.6 294.7 297.6 292.1 302.1 289.6 304.5 286.3 306.5 281.3 307.6 M205.3 359.8 209.6 359.3 214.3 359.2 219.6 359.8 221.3 359.1 222.0 358.1 223.4 354.9 227.6 350.0 232.4 342.9 238.6 335.6 240.7 330.4 243.8 326.1 246.2 321.9 248.6 319.6 251.3 318.4 253.6 318.7 256.6 319.8 259.7 322.4 262.6 323.9 263.7 325.4 264.4 329.4 264.9 336.4 263.3 345.4 263.0 349.9 261.8 353.1 261.6 354.5 261.9 355.4 262.8 355.7 266.6 354.9 268.7 353.4 272.0 349.6 272.8 347.9 273.2 344.4 272.2 334.4 273.4 330.9 273.6 327.4 274.4 324.9 275.1 324.1 275.8 324.0 278.6 324.7 282.1 324.3 283.5 325.4 285.5 328.6 286.1 332.4 286.0 339.9 285.3 347.6 286.5 355.9 285.8 361.6 286.7 366.6 286.6 372.4 286.3 374.3 284.9 378.6 285.1 381.9 284.6 383.4 283.3 384.4 279.1 385.5 277.8 385.6 275.1 385.0 274.1 385.2 271.8 387.4 270.8 388.0 269.8 388.0 267.8 387.3 265.6 387.6 264.1 388.5 261.8 391.4 260.6 392.0 259.1 391.9 248.6 389.2 245.6 386.6 243.1 381.4 242.5 375.9 242.7 363.9 242.0 361.9 240.8 359.6 239.8 358.7 238.5 358.6 237.4 359.4 237.0 360.9 237.1 363.1 237.9 366.6 237.4 369.9 238.1 372.9 238.2 374.9 238.0 376.9 237.1 380.3 237.4 383.9 236.6 387.4 235.9 392.4 235.9 396.4 M281.8 305.9 279.6 305.7 275.3 304.3 274.2 303.6 273.8 302.6 273.9 300.6 274.9 297.4 279.1 288.9 280.8 286.8 284.3 285.4 289.1 285.2 292.8 286.2 294.5 288.1 295.2 289.9 295.4 291.4 294.6 295.6 292.7 299.4 290.8 302.1 287.8 304.3 285.6 305.2 281.8 305.9 M205.3 360.5 211.8 359.7 216.1 359.9 220.1 360.6 221.3 360.2 224.6 358.4 227.6 359.0 228.4 358.9 228.7 358.1 228.1 357.3 224.9 356.6 224.8 355.9 225.0 355.1 232.6 344.6 239.8 336.1 242.2 330.4 244.6 327.1 246.9 323.1 249.1 321.1 251.3 320.3 253.6 320.7 255.8 321.7 262.3 325.7 263.0 327.1 263.7 330.6 264.2 334.1 264.2 336.9 261.8 349.1 259.7 354.6 259.7 356.6 260.3 357.5 261.3 358.2 264.3 358.6 265.3 359.1 265.9 360.1 266.6 363.4 267.6 364.5 272.3 364.8 275.3 363.9 276.6 364.2 277.8 366.6 277.5 369.6 278.6 372.9 278.5 374.1 276.5 376.9 275.2 379.4 274.6 379.8 273.8 379.8 271.6 378.9 270.4 377.6 270.1 376.1 270.8 373.1 270.3 372.3 269.6 372.1 268.8 373.1 267.9 376.1 265.1 381.9 260.1 388.0 258.8 388.5 256.6 388.5 249.3 387.2 248.2 386.6 247.3 385.6 244.4 379.1 244.1 368.9 244.4 364.6 243.3 359.3 242.3 357.9 240.9 357.1 238.8 357.0 236.7 357.6 235.6 358.4 235.3 359.1 236.9 366.6 236.3 369.6 237.2 373.4 236.3 380.3 236.7 384.1 234.2 396.4 M278.8 362.4 277.3 362.4 276.5 361.9 275.3 358.9 274.9 356.9 275.1 355.6 276.3 353.4 276.4 352.4 276.2 348.9 276.5 344.9 275.8 341.1 275.6 334.1 276.2 332.6 277.6 330.5 278.3 329.7 279.3 329.5 280.6 330.4 282.9 336.6 283.3 341.4 282.8 347.1 284.2 357.1 283.7 359.1 282.6 361.0 281.3 361.8 278.8 362.4 M226.7 396.4 226.1 396.1 225.5 396.4 M283.1 304.4 281.3 304.4 279.6 304.1 277.3 303.1 276.1 302.1 275.6 300.9 275.5 299.4 276.9 295.4 280.2 289.1 282.1 287.3 284.1 286.5 286.8 286.3 289.3 286.4 291.8 287.2 293.3 288.6 294.3 291.1 294.1 293.9 293.1 296.9 291.1 300.3 289.6 301.9 286.3 303.7 283.1 304.4 M205.3 361.4 208.8 360.5 211.3 360.3 216.1 360.6 220.1 361.2 224.3 359.7 228.6 360.1 230.1 359.7 230.8 358.9 230.9 358.1 229.9 356.6 227.9 354.9 227.8 354.1 228.0 353.4 231.2 348.6 240.8 336.7 243.1 331.4 248.2 323.6 250.3 322.2 252.6 322.1 260.3 326.0 261.7 327.4 263.4 333.1 263.5 337.9 261.1 348.4 258.3 355.1 257.8 357.4 258.6 359.1 262.3 361.3 263.1 362.6 264.8 371.9 264.7 376.9 263.8 379.3 260.3 383.5 258.8 384.6 253.6 385.3 251.3 385.2 250.1 384.7 249.3 383.9 248.3 381.6 246.3 379.1 245.9 377.9 245.6 369.1 246.3 363.1 246.0 359.6 245.6 358.1 244.1 356.6 241.8 355.7 238.1 356.0 234.1 357.1 233.0 357.9 232.6 358.9 234.5 361.1 235.0 362.1 235.9 366.6 235.2 369.9 236.2 373.1 235.6 376.4 235.7 380.6 236.2 384.1 234.9 390.9 233.8 393.8 232.6 395.0 231.1 395.3 225.6 394.7 223.8 395.4 222.8 396.4 M214.7 396.4 214.0 395.6 212.8 395.2 205.3 395.2 M283.6 303.1 280.3 302.8 278.6 302.1 277.4 301.1 276.9 300.1 276.8 298.9 278.0 295.4 281.0 289.9 282.8 288.1 284.6 287.5 286.8 287.4 289.1 287.6 291.1 288.3 292.5 289.6 293.2 291.6 293.1 294.1 292.3 296.6 290.5 299.6 289.1 301.0 286.6 302.4 283.6 303.1 M250.3 356.9 249.1 356.8 246.4 355.6 242.9 354.6 236.6 355.2 231.8 355.0 230.4 354.4 230.0 353.4 231.5 350.4 235.7 344.9 238.3 342.0 241.8 337.2 244.2 332.1 248.2 325.6 249.8 324.1 251.8 323.6 257.3 325.8 260.6 328.3 261.6 329.8 262.6 332.4 263.1 336.6 262.7 339.9 260.5 348.1 257.6 354.2 256.6 355.5 255.3 356.3 250.3 356.9 M205.3 364.8 206.7 362.1 207.8 361.4 209.8 361.0 216.1 361.1 219.8 361.7 221.3 361.5 225.1 360.4 228.8 360.8 231.6 360.6 233.1 361.1 234.2 362.6 234.9 365.9 234.3 369.9 235.2 373.1 234.1 376.4 234.8 378.6 235.7 383.9 234.2 391.1 233.1 393.1 231.8 393.9 225.6 393.8 221.1 395.0 214.3 393.7 209.3 394.1 205.3 393.7 M257.1 382.1 253.6 382.3 252.1 382.0 248.3 377.9 247.8 377.0 247.4 368.6 248.8 363.5 249.6 362.5 250.6 362.0 254.6 361.6 257.1 361.9 259.8 363.1 261.1 364.9 262.4 372.1 262.7 377.1 262.0 378.6 259.8 380.7 258.6 381.6 257.1 382.1 M283.8 301.9 282.1 301.9 280.6 301.5 279.3 300.9 278.4 299.9 278.1 298.9 278.2 297.6 279.7 294.1 281.8 290.5 283.6 289.0 286.6 288.6 290.3 289.3 291.5 290.4 292.2 292.1 292.2 294.1 291.4 296.4 289.8 298.9 288.6 300.2 286.6 301.3 283.8 301.9 M255.3 354.6 253.8 354.7 243.8 353.5 237.1 354.0 233.6 352.9 232.7 352.1 233.1 350.9 236.3 346.1 239.6 342.4 242.6 338.1 248.8 327.1 250.1 325.8 251.3 325.3 252.6 325.4 256.1 326.7 257.8 327.7 261.3 331.4 262.1 333.1 262.5 334.9 262.4 339.1 260.0 347.9 257.5 352.9 256.3 354.1 255.3 354.6 M205.3 384.0 206.3 383.0 206.9 381.6 206.4 367.9 207.1 363.6 207.8 362.4 209.3 361.7 211.3 361.4 220.6 362.1 225.6 361.0 231.6 361.5 233.1 362.4 233.7 363.4 234.0 365.4 233.5 369.6 234.2 372.9 233.2 375.4 233.1 376.6 234.1 379.4 235.1 383.9 234.1 389.9 232.8 392.1 231.1 392.9 225.8 393.1 222.1 393.7 218.3 392.5 214.3 392.1 210.3 393.0 208.1 393.0 206.9 392.6 206.2 391.9 205.8 388.9 205.3 387.9 M257.1 379.7 254.8 379.8 252.8 379.2 251.3 377.8 249.9 375.4 249.4 371.6 249.4 369.4 250.4 365.9 250.9 365.1 251.7 364.6 254.8 364.4 257.1 365.2 258.5 366.6 259.7 369.6 260.3 372.1 260.6 376.4 259.6 377.9 257.1 379.7 M284.8 300.4 281.6 300.4 280.4 299.9 279.7 299.1 279.6 297.1 280.9 293.9 282.6 291.1 284.1 290.1 286.1 289.9 289.8 290.6 290.8 291.6 291.2 292.9 291.1 294.4 290.5 296.1 289.3 298.0 288.1 299.2 286.6 300.0 284.8 300.4 M255.3 353.4 254.1 353.4 246.6 352.3 238.3 352.9 236.3 352.2 235.4 351.1 235.6 349.9 237.2 346.9 242.8 340.0 249.2 328.9 250.3 327.6 251.6 327.0 253.6 327.3 256.8 328.7 260.8 332.4 261.6 333.9 262.0 335.4 261.9 339.4 259.7 347.1 257.3 351.8 256.3 352.9 255.3 353.4 M224.3 392.6 222.1 392.6 218.9 391.6 213.8 391.1 209.1 392.0 208.1 391.8 207.4 391.1 206.3 385.9 208.0 381.4 207.4 373.9 207.3 367.6 208.0 363.9 209.1 362.5 211.6 362.0 220.6 362.6 226.1 361.5 231.3 362.2 232.3 362.6 232.9 363.4 233.4 365.6 233.0 369.6 233.4 372.6 232.5 375.4 232.4 376.9 234.6 383.9 233.6 389.4 232.8 391.0 231.6 391.8 224.3 392.6 M255.1 376.1 254.1 376.2 253.1 375.5 252.3 374.2 252.1 372.9 252.4 371.1 253.1 369.6 254.1 368.7 255.1 368.5 256.1 368.8 256.8 369.4 257.5 370.6 257.7 371.9 257.0 374.4 256.1 375.5 255.1 376.1 M283.8 298.9 281.8 298.9 280.9 297.6 281.4 295.1 283.1 292.2 283.8 291.5 284.8 291.2 287.1 292.1 289.3 292.4 289.8 293.1 289.9 294.4 289.6 295.7 288.6 297.1 287.1 298.3 283.8 298.9 M255.6 352.1 254.1 352.2 247.3 351.1 239.6 351.8 238.1 351.4 237.4 350.4 237.6 348.9 238.6 346.9 243.9 340.6 250.0 330.1 251.1 329.1 252.1 328.7 253.3 328.8 255.3 329.6 259.6 332.7 260.9 334.1 261.5 336.1 261.4 339.6 259.4 346.4 257.3 350.5 255.6 352.1 M226.1 391.9 222.8 391.8 219.1 390.9 213.3 390.1 209.6 390.9 208.3 390.1 207.3 386.1 207.5 384.9 208.8 382.6 209.0 381.4 208.3 374.6 208.4 371.1 208.1 367.6 208.7 364.4 209.6 363.1 211.8 362.6 221.1 363.0 226.1 362.0 231.1 362.7 232.4 363.9 232.9 365.9 232.5 369.6 232.8 372.6 231.8 376.9 232.1 378.4 234.0 383.4 233.2 388.6 232.7 389.9 231.8 390.6 226.1 391.9 M283.3 296.9 282.7 296.6 282.7 295.4 283.6 293.8 284.3 293.4 284.8 294.1 284.6 295.4 284.1 296.4 283.3 296.9 M255.6 350.9 254.1 351.0 247.6 350.1 240.8 350.7 239.6 350.3 239.0 349.4 239.2 348.4 240.1 346.9 245.4 340.9 250.3 332.3 251.3 331.2 252.3 330.8 255.1 331.5 259.1 333.7 260.3 334.9 260.9 336.6 260.8 339.9 259.2 345.6 257.3 349.2 255.6 350.9 M227.1 391.1 223.8 391.2 213.1 389.2 210.1 389.6 209.0 388.9 208.4 387.4 208.3 385.9 209.9 382.4 210.0 378.4 209.1 374.9 209.3 371.1 208.8 367.6 209.3 364.9 210.3 363.6 212.1 363.2 221.3 363.4 226.3 362.5 230.6 363.2 231.9 364.1 232.4 366.1 232.1 369.6 232.2 372.4 231.3 375.9 231.3 377.6 231.6 379.1 233.3 383.1 233.4 385.1 232.7 388.1 232.1 389.3 227.1 391.1 M255.3 349.7 252.3 349.7 248.1 349.1 242.6 349.4 241.6 349.1 241.2 348.6 241.9 346.9 246.8 341.0 250.6 334.4 251.6 333.4 252.6 332.9 255.1 333.3 258.3 334.7 259.6 335.9 260.3 337.4 260.1 340.4 258.7 345.4 257.1 348.2 255.3 349.7 M226.1 390.6 216.3 389.3 213.1 388.2 210.6 388.3 209.6 387.6 209.3 385.9 210.7 382.6 211.2 377.9 210.0 374.6 210.2 371.1 209.5 367.4 209.9 365.4 210.8 364.2 212.6 363.8 221.6 363.8 226.3 363.0 230.1 363.5 231.5 364.6 232.0 366.4 231.7 372.4 230.9 375.9 230.7 377.9 231.1 379.6 232.8 383.4 232.6 386.1 232.2 387.6 231.6 388.5 226.1 390.6 M254.3 348.6 245.3 348.1 244.3 347.8 243.9 347.1 244.7 345.4 248.1 341.1 250.8 336.2 252.1 334.9 253.3 334.5 255.3 334.9 257.8 336.1 259.1 337.2 259.5 338.6 259.0 342.4 257.9 345.6 256.1 348.0 254.3 348.6 M226.3 389.9 216.6 388.6 210.8 386.6 210.6 385.6 211.4 383.1 212.1 377.4 210.9 374.4 210.9 371.1 210.1 367.4 210.4 365.9 211.3 364.8 213.1 364.3 221.6 364.2 226.3 363.5 229.8 364.0 231.1 364.9 231.5 366.6 231.3 372.1 230.4 375.9 230.2 378.4 230.6 380.0 232.2 383.6 232.1 385.9 231.7 387.1 231.1 387.8 226.3 389.9 M254.6 347.4 247.6 347.1 246.6 346.8 246.2 346.1 246.6 344.9 248.8 341.9 251.1 337.9 252.3 336.6 253.6 336.1 255.1 336.4 256.8 337.4 258.0 338.6 258.3 339.9 258.1 342.6 257.4 344.9 256.1 346.7 254.6 347.4 M226.1 388.9 224.6 388.8 221.6 387.4 218.8 387.9 216.6 387.8 212.3 385.6 212.1 384.9 212.1 380.6 212.9 376.9 211.8 373.9 211.6 370.9 210.8 367.6 211.1 366.1 211.8 365.3 213.8 364.7 221.6 364.6 226.1 364.0 229.6 364.4 230.8 365.4 231.2 367.1 230.8 371.9 229.9 375.9 229.7 378.4 230.1 380.1 231.5 383.6 231.5 385.6 230.6 387.1 228.3 387.8 226.1 388.9 M253.6 346.4 249.3 346.1 248.6 345.8 248.3 345.1 251.6 339.1 252.6 338.2 253.8 337.8 255.1 338.1 256.2 339.1 256.8 340.4 257.0 342.1 256.7 343.9 256.1 345.1 255.1 346.0 253.6 346.4 M226.3 386.9 225.0 386.9 223.2 384.9 221.8 384.2 220.1 384.5 218.3 386.5 217.3 386.9 215.3 386.4 213.3 384.9 212.9 383.9 212.7 380.9 213.5 376.4 212.6 373.6 212.3 370.9 211.5 367.6 211.6 366.6 212.3 365.8 214.3 365.2 221.6 365.0 225.8 364.5 229.1 364.8 230.4 365.6 230.7 367.9 229.3 378.4 229.6 380.2 230.8 383.6 230.9 385.1 230.6 385.9 229.8 386.4 226.3 386.9 M253.8 345.1 251.3 345.1 250.6 344.7 250.4 344.1 252.1 340.6 253.1 339.7 253.8 339.6 255.1 340.4 255.7 342.4 255.2 344.1 253.8 345.1 M216.8 385.9 215.8 385.8 214.6 385.0 213.5 383.1 213.3 380.6 214.1 377.6 214.2 376.1 212.2 368.1 212.5 366.6 213.6 365.9 215.1 365.6 225.6 365.0 228.3 365.2 229.6 365.6 230.2 366.4 230.3 367.9 229.1 374.7 228.8 378.1 230.0 383.6 229.8 384.9 229.3 385.3 228.3 385.4 223.1 383.7 221.1 383.5 219.6 383.9 217.6 385.6 216.8 385.9 M253.6 343.0 253.2 342.9 253.6 342.5 253.6 343.0 M216.8 384.9 215.8 384.9 215.0 384.4 214.0 382.4 213.9 380.6 214.7 377.6 214.8 375.6 213.1 368.4 213.2 367.1 214.1 366.4 215.8 366.1 225.3 365.6 228.3 365.7 229.3 366.1 229.8 366.9 229.9 367.9 228.5 374.9 228.4 378.4 228.7 383.4 227.8 383.8 223.6 383.0 220.6 383.0 219.3 383.4 216.8 384.9 M217.1 383.9 216.1 384.0 215.3 383.6 214.5 381.9 215.5 374.6 214.1 368.6 214.3 367.4 215.6 366.8 218.1 366.5 225.3 366.1 227.8 366.2 228.8 366.5 229.3 367.1 229.4 368.1 228.0 373.4 227.8 381.9 226.8 382.4 219.9 382.6 217.1 383.9 M217.3 382.9 215.9 382.9 215.2 381.6 216.4 374.1 215.1 369.4 215.3 367.9 216.2 367.4 218.1 367.0 227.1 366.9 228.3 367.2 228.7 367.9 228.6 368.6 227.2 372.4 227.4 378.6 227.1 380.9 226.1 381.5 219.8 382.1 217.3 382.9 M223.7 370.1 223.6 369.5 223.1 369.9 223.7 370.1 M217.6 381.9 216.6 381.7 216.2 381.1 216.5 377.4 217.2 373.6 216.0 369.1 216.3 368.4 217.1 367.9 219.3 367.7 221.1 368.4 221.5 370.4 222.1 371.0 225.3 371.6 225.9 372.1 226.8 375.4 226.9 378.9 226.5 380.1 225.6 380.7 217.6 381.9 M221.6 380.9 218.3 380.8 217.3 379.9 217.1 377.1 218.1 373.1 217.0 369.6 217.3 368.9 217.8 368.5 219.6 368.7 220.8 371.2 224.8 372.5 225.6 373.2 226.1 374.4 226.4 377.1 225.9 379.4 224.6 380.2 221.6 380.9 M222.1 380.1 220.6 380.3 219.1 380.0 218.3 379.5 217.8 378.6 217.7 377.4 218.0 376.1 219.3 373.0 220.1 372.4 222.1 372.4 224.1 372.9 225.1 373.7 225.6 375.1 225.8 377.1 225.3 378.5 224.2 379.4 222.1 380.1 M221.6 379.4 220.1 379.4 219.1 378.9 218.6 378.1 218.5 376.9 219.3 374.9 220.2 373.6 221.3 373.1 222.8 373.2 223.8 373.6 224.6 374.4 225.0 376.6 224.1 378.2 221.6 379.4 M221.6 378.1 220.1 378.1 219.6 377.5 219.5 376.6 220.8 374.4 221.6 374.0 222.6 374.0 223.7 374.9 223.8 376.1 223.1 377.2 221.6 378.1" fill="none" stroke="#111" stroke-width="0.85" stroke-linejoin="round"/></g>
</svg>
</body></html>
